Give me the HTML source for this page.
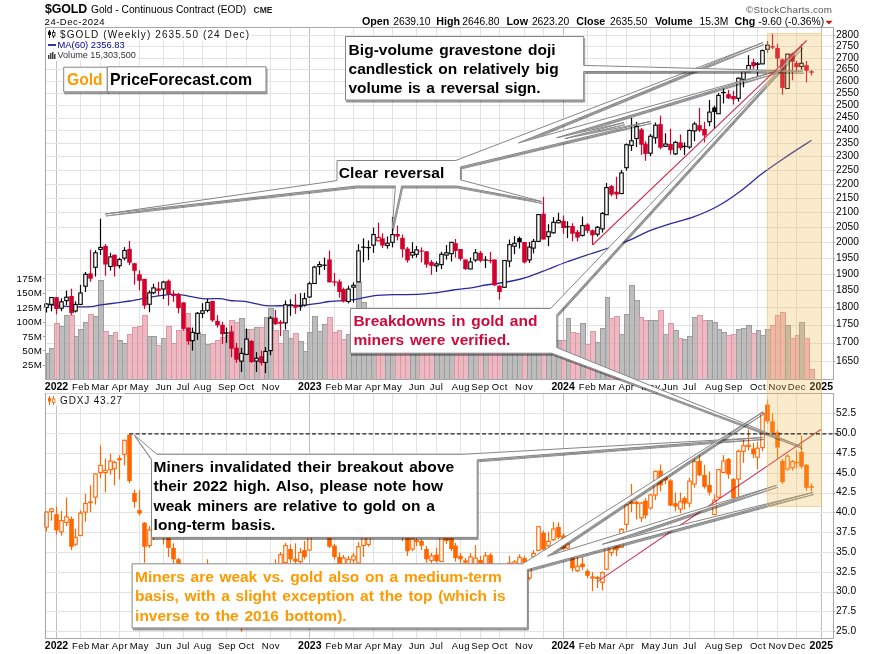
<!DOCTYPE html><html><head><meta charset="utf-8"><title>chart</title><style>html,body{margin:0;padding:0;background:#fff}svg{display:block}text{font-family:"Liberation Sans",sans-serif}</style></head><body>
<svg width="875" height="654" viewBox="0 0 875 654">
<rect width="875" height="654" fill="#fff"/><g style="will-change:transform">
<g stroke="#e3e3e3" stroke-width="1" shape-rendering="crispEdges">
<line x1="56.5" y1="27.5" x2="56.5" y2="379" stroke="#c0c0c0"/>
<line x1="80.5" y1="27.5" x2="80.5" y2="379" stroke="#e3e3e3"/>
<line x1="100.5" y1="27.5" x2="100.5" y2="379" stroke="#e3e3e3"/>
<line x1="119.5" y1="27.5" x2="119.5" y2="379" stroke="#e3e3e3"/>
<line x1="139.5" y1="27.5" x2="139.5" y2="379" stroke="#e3e3e3"/>
<line x1="163.5" y1="27.5" x2="163.5" y2="379" stroke="#e3e3e3"/>
<line x1="183.5" y1="27.5" x2="183.5" y2="379" stroke="#e3e3e3"/>
<line x1="202.5" y1="27.5" x2="202.5" y2="379" stroke="#e3e3e3"/>
<line x1="226.5" y1="27.5" x2="226.5" y2="379" stroke="#e3e3e3"/>
<line x1="246.5" y1="27.5" x2="246.5" y2="379" stroke="#e3e3e3"/>
<line x1="270.5" y1="27.5" x2="270.5" y2="379" stroke="#e3e3e3"/>
<line x1="290.5" y1="27.5" x2="290.5" y2="379" stroke="#e3e3e3"/>
<line x1="309.5" y1="27.5" x2="309.5" y2="379" stroke="#c0c0c0"/>
<line x1="334.5" y1="27.5" x2="334.5" y2="379" stroke="#e3e3e3"/>
<line x1="353.5" y1="27.5" x2="353.5" y2="379" stroke="#e3e3e3"/>
<line x1="373.5" y1="27.5" x2="373.5" y2="379" stroke="#e3e3e3"/>
<line x1="392.5" y1="27.5" x2="392.5" y2="379" stroke="#e3e3e3"/>
<line x1="416.5" y1="27.5" x2="416.5" y2="379" stroke="#e3e3e3"/>
<line x1="436.5" y1="27.5" x2="436.5" y2="379" stroke="#e3e3e3"/>
<line x1="460.5" y1="27.5" x2="460.5" y2="379" stroke="#e3e3e3"/>
<line x1="480.5" y1="27.5" x2="480.5" y2="379" stroke="#e3e3e3"/>
<line x1="499.5" y1="27.5" x2="499.5" y2="379" stroke="#e3e3e3"/>
<line x1="524.5" y1="27.5" x2="524.5" y2="379" stroke="#e3e3e3"/>
<line x1="543.5" y1="27.5" x2="543.5" y2="379" stroke="#e3e3e3"/>
<line x1="563.5" y1="27.5" x2="563.5" y2="379" stroke="#c0c0c0"/>
<line x1="587.5" y1="27.5" x2="587.5" y2="379" stroke="#e3e3e3"/>
<line x1="606.5" y1="27.5" x2="606.5" y2="379" stroke="#e3e3e3"/>
<line x1="626.5" y1="27.5" x2="626.5" y2="379" stroke="#e3e3e3"/>
<line x1="650.5" y1="27.5" x2="650.5" y2="379" stroke="#e3e3e3"/>
<line x1="670.5" y1="27.5" x2="670.5" y2="379" stroke="#e3e3e3"/>
<line x1="689.5" y1="27.5" x2="689.5" y2="379" stroke="#e3e3e3"/>
<line x1="714.5" y1="27.5" x2="714.5" y2="379" stroke="#e3e3e3"/>
<line x1="733.5" y1="27.5" x2="733.5" y2="379" stroke="#e3e3e3"/>
<line x1="757.5" y1="27.5" x2="757.5" y2="379" stroke="#e3e3e3"/>
<line x1="777.5" y1="27.5" x2="777.5" y2="379" stroke="#e3e3e3"/>
<line x1="796.5" y1="27.5" x2="796.5" y2="379" stroke="#e3e3e3"/>
<line x1="821.5" y1="27.5" x2="821.5" y2="379" stroke="#c0c0c0"/>
<line x1="45.5" y1="361.5" x2="833" y2="361.5"/>
<line x1="45.5" y1="343.5" x2="833" y2="343.5"/>
<line x1="45.5" y1="325.5" x2="833" y2="325.5"/>
<line x1="45.5" y1="307.5" x2="833" y2="307.5"/>
<line x1="45.5" y1="290.5" x2="833" y2="290.5"/>
<line x1="45.5" y1="274.5" x2="833" y2="274.5"/>
<line x1="45.5" y1="258.5" x2="833" y2="258.5"/>
<line x1="45.5" y1="242.5" x2="833" y2="242.5"/>
<line x1="45.5" y1="227.5" x2="833" y2="227.5"/>
<line x1="45.5" y1="212.5" x2="833" y2="212.5"/>
<line x1="45.5" y1="198.5" x2="833" y2="198.5"/>
<line x1="45.5" y1="184.5" x2="833" y2="184.5"/>
<line x1="45.5" y1="170.5" x2="833" y2="170.5"/>
<line x1="45.5" y1="156.5" x2="833" y2="156.5"/>
<line x1="45.5" y1="143.5" x2="833" y2="143.5"/>
<line x1="45.5" y1="130.5" x2="833" y2="130.5"/>
<line x1="45.5" y1="118.5" x2="833" y2="118.5"/>
<line x1="45.5" y1="105.5" x2="833" y2="105.5"/>
<line x1="45.5" y1="93.5" x2="833" y2="93.5"/>
<line x1="45.5" y1="81.5" x2="833" y2="81.5"/>
<line x1="45.5" y1="69.5" x2="833" y2="69.5"/>
<line x1="45.5" y1="58.5" x2="833" y2="58.5"/>
<line x1="45.5" y1="46.5" x2="833" y2="46.5"/>
<line x1="45.5" y1="35.5" x2="833" y2="35.5"/>
</g>
<g stroke="#e3e3e3" stroke-width="1" shape-rendering="crispEdges">
<line x1="56.5" y1="393" x2="56.5" y2="638.5" stroke="#c0c0c0"/>
<line x1="80.5" y1="393" x2="80.5" y2="638.5" stroke="#e3e3e3"/>
<line x1="100.5" y1="393" x2="100.5" y2="638.5" stroke="#e3e3e3"/>
<line x1="119.5" y1="393" x2="119.5" y2="638.5" stroke="#e3e3e3"/>
<line x1="139.5" y1="393" x2="139.5" y2="638.5" stroke="#e3e3e3"/>
<line x1="163.5" y1="393" x2="163.5" y2="638.5" stroke="#e3e3e3"/>
<line x1="183.5" y1="393" x2="183.5" y2="638.5" stroke="#e3e3e3"/>
<line x1="202.5" y1="393" x2="202.5" y2="638.5" stroke="#e3e3e3"/>
<line x1="226.5" y1="393" x2="226.5" y2="638.5" stroke="#e3e3e3"/>
<line x1="246.5" y1="393" x2="246.5" y2="638.5" stroke="#e3e3e3"/>
<line x1="270.5" y1="393" x2="270.5" y2="638.5" stroke="#e3e3e3"/>
<line x1="290.5" y1="393" x2="290.5" y2="638.5" stroke="#e3e3e3"/>
<line x1="309.5" y1="393" x2="309.5" y2="638.5" stroke="#c0c0c0"/>
<line x1="334.5" y1="393" x2="334.5" y2="638.5" stroke="#e3e3e3"/>
<line x1="353.5" y1="393" x2="353.5" y2="638.5" stroke="#e3e3e3"/>
<line x1="373.5" y1="393" x2="373.5" y2="638.5" stroke="#e3e3e3"/>
<line x1="392.5" y1="393" x2="392.5" y2="638.5" stroke="#e3e3e3"/>
<line x1="416.5" y1="393" x2="416.5" y2="638.5" stroke="#e3e3e3"/>
<line x1="436.5" y1="393" x2="436.5" y2="638.5" stroke="#e3e3e3"/>
<line x1="460.5" y1="393" x2="460.5" y2="638.5" stroke="#e3e3e3"/>
<line x1="480.5" y1="393" x2="480.5" y2="638.5" stroke="#e3e3e3"/>
<line x1="499.5" y1="393" x2="499.5" y2="638.5" stroke="#e3e3e3"/>
<line x1="524.5" y1="393" x2="524.5" y2="638.5" stroke="#e3e3e3"/>
<line x1="543.5" y1="393" x2="543.5" y2="638.5" stroke="#e3e3e3"/>
<line x1="563.5" y1="393" x2="563.5" y2="638.5" stroke="#c0c0c0"/>
<line x1="587.5" y1="393" x2="587.5" y2="638.5" stroke="#e3e3e3"/>
<line x1="606.5" y1="393" x2="606.5" y2="638.5" stroke="#e3e3e3"/>
<line x1="626.5" y1="393" x2="626.5" y2="638.5" stroke="#e3e3e3"/>
<line x1="650.5" y1="393" x2="650.5" y2="638.5" stroke="#e3e3e3"/>
<line x1="670.5" y1="393" x2="670.5" y2="638.5" stroke="#e3e3e3"/>
<line x1="689.5" y1="393" x2="689.5" y2="638.5" stroke="#e3e3e3"/>
<line x1="714.5" y1="393" x2="714.5" y2="638.5" stroke="#e3e3e3"/>
<line x1="733.5" y1="393" x2="733.5" y2="638.5" stroke="#e3e3e3"/>
<line x1="757.5" y1="393" x2="757.5" y2="638.5" stroke="#e3e3e3"/>
<line x1="777.5" y1="393" x2="777.5" y2="638.5" stroke="#e3e3e3"/>
<line x1="796.5" y1="393" x2="796.5" y2="638.5" stroke="#e3e3e3"/>
<line x1="821.5" y1="393" x2="821.5" y2="638.5" stroke="#c0c0c0"/>
<line x1="45.5" y1="631.5" x2="833" y2="631.5"/>
<line x1="45.5" y1="611.5" x2="833" y2="611.5"/>
<line x1="45.5" y1="592.5" x2="833" y2="592.5"/>
<line x1="45.5" y1="572.5" x2="833" y2="572.5"/>
<line x1="45.5" y1="552.5" x2="833" y2="552.5"/>
<line x1="45.5" y1="532.5" x2="833" y2="532.5"/>
<line x1="45.5" y1="512.5" x2="833" y2="512.5"/>
<line x1="45.5" y1="493.5" x2="833" y2="493.5"/>
<line x1="45.5" y1="473.5" x2="833" y2="473.5"/>
<line x1="45.5" y1="453.5" x2="833" y2="453.5"/>
<line x1="45.5" y1="433.5" x2="833" y2="433.5"/>
<line x1="45.5" y1="413.5" x2="833" y2="413.5"/>
</g>
<g shape-rendering="crispEdges" opacity="0.8">
<rect x="46.5" y="353.5" width="3" height="25.5" fill="#adadad" stroke="#858585" stroke-width="1"/>
<rect x="49.5" y="348.5" width="5" height="30.5" fill="#adadad" stroke="#858585" stroke-width="1"/>
<rect x="54.5" y="323.5" width="5" height="55.5" fill="#e9a9b5" stroke="#d67f8e" stroke-width="1"/>
<rect x="59.5" y="326.5" width="5" height="52.5" fill="#adadad" stroke="#858585" stroke-width="1"/>
<rect x="64.5" y="315.5" width="5" height="63.5" fill="#adadad" stroke="#858585" stroke-width="1"/>
<rect x="69.5" y="315.5" width="5" height="63.5" fill="#e9a9b5" stroke="#d67f8e" stroke-width="1"/>
<rect x="74.5" y="336.5" width="4" height="42.5" fill="#adadad" stroke="#858585" stroke-width="1"/>
<rect x="78.5" y="329.5" width="5" height="49.5" fill="#adadad" stroke="#858585" stroke-width="1"/>
<rect x="83.5" y="322.5" width="5" height="56.5" fill="#adadad" stroke="#858585" stroke-width="1"/>
<rect x="88.5" y="314.5" width="5" height="64.5" fill="#e9a9b5" stroke="#d67f8e" stroke-width="1"/>
<rect x="93.5" y="316.5" width="5" height="62.5" fill="#adadad" stroke="#858585" stroke-width="1"/>
<rect x="98.5" y="280.5" width="5" height="98.5" fill="#adadad" stroke="#858585" stroke-width="1"/>
<rect x="103.5" y="331.5" width="5" height="47.5" fill="#e9a9b5" stroke="#d67f8e" stroke-width="1"/>
<rect x="108.5" y="335.5" width="5" height="43.5" fill="#adadad" stroke="#858585" stroke-width="1"/>
<rect x="113.5" y="332.5" width="4" height="46.5" fill="#e9a9b5" stroke="#d67f8e" stroke-width="1"/>
<rect x="117.5" y="340.5" width="5" height="38.5" fill="#adadad" stroke="#858585" stroke-width="1"/>
<rect x="122.5" y="343.5" width="5" height="35.5" fill="#adadad" stroke="#858585" stroke-width="1"/>
<rect x="127.5" y="334.5" width="5" height="44.5" fill="#e9a9b5" stroke="#d67f8e" stroke-width="1"/>
<rect x="132.5" y="327.5" width="5" height="51.5" fill="#e9a9b5" stroke="#d67f8e" stroke-width="1"/>
<rect x="137.5" y="326.5" width="5" height="52.5" fill="#e9a9b5" stroke="#d67f8e" stroke-width="1"/>
<rect x="142.5" y="315.5" width="5" height="63.5" fill="#e9a9b5" stroke="#d67f8e" stroke-width="1"/>
<rect x="147.5" y="336.5" width="4" height="42.5" fill="#adadad" stroke="#858585" stroke-width="1"/>
<rect x="151.5" y="336.5" width="5" height="42.5" fill="#adadad" stroke="#858585" stroke-width="1"/>
<rect x="156.5" y="345.5" width="5" height="33.5" fill="#e9a9b5" stroke="#d67f8e" stroke-width="1"/>
<rect x="161.5" y="338.5" width="5" height="40.5" fill="#adadad" stroke="#858585" stroke-width="1"/>
<rect x="166.5" y="326.5" width="5" height="52.5" fill="#e9a9b5" stroke="#d67f8e" stroke-width="1"/>
<rect x="171.5" y="343.5" width="5" height="35.5" fill="#e9a9b5" stroke="#d67f8e" stroke-width="1"/>
<rect x="176.5" y="330.5" width="5" height="48.5" fill="#e9a9b5" stroke="#d67f8e" stroke-width="1"/>
<rect x="181.5" y="328.5" width="5" height="50.5" fill="#e9a9b5" stroke="#d67f8e" stroke-width="1"/>
<rect x="186.5" y="313.5" width="4" height="65.5" fill="#e9a9b5" stroke="#d67f8e" stroke-width="1"/>
<rect x="190.5" y="332.5" width="5" height="46.5" fill="#adadad" stroke="#858585" stroke-width="1"/>
<rect x="195.5" y="332.5" width="5" height="46.5" fill="#adadad" stroke="#858585" stroke-width="1"/>
<rect x="200.5" y="334.5" width="5" height="44.5" fill="#adadad" stroke="#858585" stroke-width="1"/>
<rect x="205.5" y="344.5" width="5" height="34.5" fill="#adadad" stroke="#858585" stroke-width="1"/>
<rect x="210.5" y="343.5" width="5" height="35.5" fill="#e9a9b5" stroke="#d67f8e" stroke-width="1"/>
<rect x="215.5" y="340.5" width="5" height="38.5" fill="#e9a9b5" stroke="#d67f8e" stroke-width="1"/>
<rect x="220.5" y="337.5" width="5" height="41.5" fill="#e9a9b5" stroke="#d67f8e" stroke-width="1"/>
<rect x="225.5" y="335.5" width="4" height="43.5" fill="#adadad" stroke="#858585" stroke-width="1"/>
<rect x="229.5" y="320.5" width="5" height="58.5" fill="#e9a9b5" stroke="#d67f8e" stroke-width="1"/>
<rect x="234.5" y="322.5" width="5" height="56.5" fill="#e9a9b5" stroke="#d67f8e" stroke-width="1"/>
<rect x="239.5" y="318.5" width="5" height="60.5" fill="#adadad" stroke="#858585" stroke-width="1"/>
<rect x="244.5" y="329.5" width="5" height="49.5" fill="#adadad" stroke="#858585" stroke-width="1"/>
<rect x="249.5" y="329.5" width="5" height="49.5" fill="#e9a9b5" stroke="#d67f8e" stroke-width="1"/>
<rect x="254.5" y="327.5" width="5" height="51.5" fill="#adadad" stroke="#858585" stroke-width="1"/>
<rect x="259.5" y="327.5" width="5" height="51.5" fill="#e9a9b5" stroke="#d67f8e" stroke-width="1"/>
<rect x="264.5" y="317.5" width="4" height="61.5" fill="#adadad" stroke="#858585" stroke-width="1"/>
<rect x="268.5" y="308.5" width="5" height="70.5" fill="#adadad" stroke="#858585" stroke-width="1"/>
<rect x="273.5" y="330.5" width="5" height="48.5" fill="#e9a9b5" stroke="#d67f8e" stroke-width="1"/>
<rect x="278.5" y="343.5" width="5" height="35.5" fill="#e9a9b5" stroke="#d67f8e" stroke-width="1"/>
<rect x="283.5" y="330.5" width="5" height="48.5" fill="#adadad" stroke="#858585" stroke-width="1"/>
<rect x="288.5" y="338.5" width="5" height="40.5" fill="#adadad" stroke="#858585" stroke-width="1"/>
<rect x="293.5" y="333.5" width="5" height="45.5" fill="#e9a9b5" stroke="#d67f8e" stroke-width="1"/>
<rect x="298.5" y="341.5" width="5" height="37.5" fill="#adadad" stroke="#858585" stroke-width="1"/>
<rect x="303.5" y="351.5" width="4" height="27.5" fill="#adadad" stroke="#858585" stroke-width="1"/>
<rect x="307.5" y="332.5" width="5" height="46.5" fill="#adadad" stroke="#858585" stroke-width="1"/>
<rect x="312.5" y="316.5" width="5" height="62.5" fill="#adadad" stroke="#858585" stroke-width="1"/>
<rect x="317.5" y="331.5" width="5" height="47.5" fill="#adadad" stroke="#858585" stroke-width="1"/>
<rect x="322.5" y="324.5" width="5" height="54.5" fill="#adadad" stroke="#858585" stroke-width="1"/>
<rect x="327.5" y="317.5" width="5" height="61.5" fill="#e9a9b5" stroke="#d67f8e" stroke-width="1"/>
<rect x="332.5" y="332.5" width="5" height="46.5" fill="#e9a9b5" stroke="#d67f8e" stroke-width="1"/>
<rect x="337.5" y="330.5" width="4" height="48.5" fill="#e9a9b5" stroke="#d67f8e" stroke-width="1"/>
<rect x="341.5" y="339.5" width="5" height="39.5" fill="#e9a9b5" stroke="#d67f8e" stroke-width="1"/>
<rect x="346.5" y="334.5" width="5" height="44.5" fill="#adadad" stroke="#858585" stroke-width="1"/>
<rect x="351.5" y="330.5" width="5" height="48.5" fill="#adadad" stroke="#858585" stroke-width="1"/>
<rect x="356.5" y="282.5" width="5" height="96.5" fill="#adadad" stroke="#858585" stroke-width="1"/>
<rect x="361.5" y="302.5" width="5" height="76.5" fill="#adadad" stroke="#858585" stroke-width="1"/>
<rect x="366.5" y="325.5" width="5" height="53.5" fill="#adadad" stroke="#858585" stroke-width="1"/>
<rect x="371.5" y="335.5" width="5" height="43.5" fill="#adadad" stroke="#858585" stroke-width="1"/>
<rect x="376.5" y="335.5" width="4" height="43.5" fill="#e9a9b5" stroke="#d67f8e" stroke-width="1"/>
<rect x="380.5" y="335.5" width="5" height="43.5" fill="#e9a9b5" stroke="#d67f8e" stroke-width="1"/>
<rect x="385.5" y="335.5" width="5" height="43.5" fill="#adadad" stroke="#858585" stroke-width="1"/>
<rect x="390.5" y="330.5" width="5" height="48.5" fill="#adadad" stroke="#858585" stroke-width="1"/>
<rect x="395.5" y="335.5" width="5" height="43.5" fill="#e9a9b5" stroke="#d67f8e" stroke-width="1"/>
<rect x="400.5" y="335.5" width="5" height="43.5" fill="#e9a9b5" stroke="#d67f8e" stroke-width="1"/>
<rect x="405.5" y="335.5" width="5" height="43.5" fill="#e9a9b5" stroke="#d67f8e" stroke-width="1"/>
<rect x="410.5" y="335.5" width="5" height="43.5" fill="#adadad" stroke="#858585" stroke-width="1"/>
<rect x="415.5" y="335.5" width="4" height="43.5" fill="#adadad" stroke="#858585" stroke-width="1"/>
<rect x="419.5" y="335.5" width="5" height="43.5" fill="#e9a9b5" stroke="#d67f8e" stroke-width="1"/>
<rect x="424.5" y="335.5" width="5" height="43.5" fill="#e9a9b5" stroke="#d67f8e" stroke-width="1"/>
<rect x="429.5" y="335.5" width="5" height="43.5" fill="#e9a9b5" stroke="#d67f8e" stroke-width="1"/>
<rect x="434.5" y="335.5" width="5" height="43.5" fill="#adadad" stroke="#858585" stroke-width="1"/>
<rect x="439.5" y="335.5" width="5" height="43.5" fill="#adadad" stroke="#858585" stroke-width="1"/>
<rect x="444.5" y="335.5" width="5" height="43.5" fill="#adadad" stroke="#858585" stroke-width="1"/>
<rect x="449.5" y="335.5" width="5" height="43.5" fill="#adadad" stroke="#858585" stroke-width="1"/>
<rect x="454.5" y="335.5" width="4" height="43.5" fill="#e9a9b5" stroke="#d67f8e" stroke-width="1"/>
<rect x="458.5" y="335.5" width="5" height="43.5" fill="#e9a9b5" stroke="#d67f8e" stroke-width="1"/>
<rect x="463.5" y="335.5" width="5" height="43.5" fill="#e9a9b5" stroke="#d67f8e" stroke-width="1"/>
<rect x="468.5" y="335.5" width="5" height="43.5" fill="#adadad" stroke="#858585" stroke-width="1"/>
<rect x="473.5" y="335.5" width="5" height="43.5" fill="#adadad" stroke="#858585" stroke-width="1"/>
<rect x="478.5" y="335.5" width="5" height="43.5" fill="#e9a9b5" stroke="#d67f8e" stroke-width="1"/>
<rect x="483.5" y="335.5" width="5" height="43.5" fill="#adadad" stroke="#858585" stroke-width="1"/>
<rect x="488.5" y="335.5" width="4" height="43.5" fill="#e9a9b5" stroke="#d67f8e" stroke-width="1"/>
<rect x="492.5" y="330.5" width="5" height="48.5" fill="#e9a9b5" stroke="#d67f8e" stroke-width="1"/>
<rect x="497.5" y="325.5" width="5" height="53.5" fill="#e9a9b5" stroke="#d67f8e" stroke-width="1"/>
<rect x="502.5" y="325.5" width="5" height="53.5" fill="#adadad" stroke="#858585" stroke-width="1"/>
<rect x="507.5" y="325.5" width="5" height="53.5" fill="#adadad" stroke="#858585" stroke-width="1"/>
<rect x="512.5" y="335.5" width="5" height="43.5" fill="#adadad" stroke="#858585" stroke-width="1"/>
<rect x="517.5" y="335.5" width="5" height="43.5" fill="#adadad" stroke="#858585" stroke-width="1"/>
<rect x="522.5" y="335.5" width="5" height="43.5" fill="#e9a9b5" stroke="#d67f8e" stroke-width="1"/>
<rect x="527.5" y="335.5" width="4" height="43.5" fill="#adadad" stroke="#858585" stroke-width="1"/>
<rect x="531.5" y="335.5" width="5" height="43.5" fill="#adadad" stroke="#858585" stroke-width="1"/>
<rect x="536.5" y="325.5" width="5" height="53.5" fill="#adadad" stroke="#858585" stroke-width="1"/>
<rect x="541.5" y="315.5" width="5" height="63.5" fill="#e9a9b5" stroke="#d67f8e" stroke-width="1"/>
<rect x="546.5" y="330.5" width="5" height="48.5" fill="#adadad" stroke="#858585" stroke-width="1"/>
<rect x="551.5" y="335.5" width="5" height="43.5" fill="#adadad" stroke="#858585" stroke-width="1"/>
<rect x="556.5" y="340.5" width="5" height="38.5" fill="#adadad" stroke="#858585" stroke-width="1"/>
<rect x="561.5" y="340.5" width="5" height="38.5" fill="#e9a9b5" stroke="#d67f8e" stroke-width="1"/>
<rect x="566.5" y="318.5" width="4" height="60.5" fill="#adadad" stroke="#858585" stroke-width="1"/>
<rect x="570.5" y="332.5" width="5" height="46.5" fill="#e9a9b5" stroke="#d67f8e" stroke-width="1"/>
<rect x="575.5" y="333.5" width="5" height="45.5" fill="#e9a9b5" stroke="#d67f8e" stroke-width="1"/>
<rect x="580.5" y="323.5" width="5" height="55.5" fill="#adadad" stroke="#858585" stroke-width="1"/>
<rect x="585.5" y="344.5" width="5" height="34.5" fill="#e9a9b5" stroke="#d67f8e" stroke-width="1"/>
<rect x="590.5" y="331.5" width="5" height="47.5" fill="#e9a9b5" stroke="#d67f8e" stroke-width="1"/>
<rect x="595.5" y="342.5" width="5" height="36.5" fill="#adadad" stroke="#858585" stroke-width="1"/>
<rect x="600.5" y="328.5" width="5" height="50.5" fill="#adadad" stroke="#858585" stroke-width="1"/>
<rect x="605.5" y="297.5" width="4" height="81.5" fill="#adadad" stroke="#858585" stroke-width="1"/>
<rect x="609.5" y="318.5" width="5" height="60.5" fill="#e9a9b5" stroke="#d67f8e" stroke-width="1"/>
<rect x="614.5" y="316.5" width="5" height="62.5" fill="#e9a9b5" stroke="#d67f8e" stroke-width="1"/>
<rect x="619.5" y="334.5" width="5" height="44.5" fill="#adadad" stroke="#858585" stroke-width="1"/>
<rect x="624.5" y="314.5" width="5" height="64.5" fill="#adadad" stroke="#858585" stroke-width="1"/>
<rect x="629.5" y="285.5" width="5" height="93.5" fill="#adadad" stroke="#858585" stroke-width="1"/>
<rect x="634.5" y="300.5" width="5" height="78.5" fill="#adadad" stroke="#858585" stroke-width="1"/>
<rect x="639.5" y="317.5" width="4" height="61.5" fill="#e9a9b5" stroke="#d67f8e" stroke-width="1"/>
<rect x="643.5" y="320.5" width="5" height="58.5" fill="#e9a9b5" stroke="#d67f8e" stroke-width="1"/>
<rect x="648.5" y="320.5" width="5" height="58.5" fill="#adadad" stroke="#858585" stroke-width="1"/>
<rect x="653.5" y="320.5" width="5" height="58.5" fill="#adadad" stroke="#858585" stroke-width="1"/>
<rect x="658.5" y="310.5" width="5" height="68.5" fill="#e9a9b5" stroke="#d67f8e" stroke-width="1"/>
<rect x="663.5" y="334.5" width="5" height="44.5" fill="#adadad" stroke="#858585" stroke-width="1"/>
<rect x="668.5" y="323.5" width="5" height="55.5" fill="#e9a9b5" stroke="#d67f8e" stroke-width="1"/>
<rect x="673.5" y="330.5" width="5" height="48.5" fill="#adadad" stroke="#858585" stroke-width="1"/>
<rect x="678.5" y="338.5" width="4" height="40.5" fill="#e9a9b5" stroke="#d67f8e" stroke-width="1"/>
<rect x="682.5" y="339.5" width="5" height="39.5" fill="#adadad" stroke="#858585" stroke-width="1"/>
<rect x="687.5" y="336.5" width="5" height="42.5" fill="#adadad" stroke="#858585" stroke-width="1"/>
<rect x="692.5" y="317.5" width="5" height="61.5" fill="#adadad" stroke="#858585" stroke-width="1"/>
<rect x="697.5" y="315.5" width="5" height="63.5" fill="#e9a9b5" stroke="#d67f8e" stroke-width="1"/>
<rect x="702.5" y="320.5" width="5" height="58.5" fill="#e9a9b5" stroke="#d67f8e" stroke-width="1"/>
<rect x="707.5" y="320.5" width="5" height="58.5" fill="#adadad" stroke="#858585" stroke-width="1"/>
<rect x="712.5" y="322.5" width="5" height="56.5" fill="#adadad" stroke="#858585" stroke-width="1"/>
<rect x="717.5" y="329.5" width="4" height="49.5" fill="#adadad" stroke="#858585" stroke-width="1"/>
<rect x="721.5" y="332.5" width="5" height="46.5" fill="#adadad" stroke="#858585" stroke-width="1"/>
<rect x="726.5" y="335.5" width="5" height="43.5" fill="#e9a9b5" stroke="#d67f8e" stroke-width="1"/>
<rect x="731.5" y="334.5" width="5" height="44.5" fill="#e9a9b5" stroke="#d67f8e" stroke-width="1"/>
<rect x="736.5" y="329.5" width="5" height="49.5" fill="#adadad" stroke="#858585" stroke-width="1"/>
<rect x="741.5" y="328.5" width="5" height="50.5" fill="#adadad" stroke="#858585" stroke-width="1"/>
<rect x="746.5" y="325.5" width="5" height="53.5" fill="#adadad" stroke="#858585" stroke-width="1"/>
<rect x="751.5" y="333.5" width="5" height="45.5" fill="#e9a9b5" stroke="#d67f8e" stroke-width="1"/>
<rect x="756.5" y="330.5" width="4" height="48.5" fill="#adadad" stroke="#858585" stroke-width="1"/>
<rect x="760.5" y="335.5" width="5" height="43.5" fill="#adadad" stroke="#858585" stroke-width="1"/>
<rect x="765.5" y="329.5" width="5" height="49.5" fill="#adadad" stroke="#858585" stroke-width="1"/>
<rect x="770.5" y="325.5" width="5" height="53.5" fill="#e9a9b5" stroke="#d67f8e" stroke-width="1"/>
<rect x="775.5" y="315.5" width="5" height="63.5" fill="#e9a9b5" stroke="#d67f8e" stroke-width="1"/>
<rect x="780.5" y="312.5" width="5" height="66.5" fill="#e9a9b5" stroke="#d67f8e" stroke-width="1"/>
<rect x="785.5" y="325.5" width="5" height="53.5" fill="#adadad" stroke="#858585" stroke-width="1"/>
<rect x="790.5" y="338.5" width="5" height="40.5" fill="#e9a9b5" stroke="#d67f8e" stroke-width="1"/>
<rect x="795.5" y="335.5" width="4" height="43.5" fill="#e9a9b5" stroke="#d67f8e" stroke-width="1"/>
<rect x="799.5" y="322.5" width="5" height="56.5" fill="#adadad" stroke="#858585" stroke-width="1"/>
<rect x="804.5" y="338.5" width="5" height="40.5" fill="#e9a9b5" stroke="#d67f8e" stroke-width="1"/>
<rect x="809.5" y="369.5" width="5" height="9.5" fill="#e9a9b5" stroke="#d67f8e" stroke-width="1"/>
</g>
<path fill="none" stroke="#2a2aa0" stroke-width="1.3" d="M45.5 304.3 C47.4 304.5 52.5 305.1 56.8 305.5 C61.1 305.9 65.7 306.5 71.3 306.7 C76.9 306.9 85.5 307.0 90.5 306.7 C95.5 306.4 96.7 305.5 101.0 304.9 C105.3 304.3 111.7 303.5 116.5 302.9 C121.3 302.2 124.6 301.9 130.0 301.0 C135.4 300.1 142.7 298.5 149.1 297.4 C155.5 296.3 163.1 295.1 168.2 294.6 C173.3 294.1 174.0 293.9 179.7 294.6 C185.4 295.3 195.9 297.9 202.6 298.6 C209.3 299.3 215.2 298.3 219.8 298.6 C224.4 298.9 225.8 300.0 230.0 300.5 C234.2 301.0 238.8 300.5 244.8 301.4 C250.8 302.2 259.2 304.9 265.9 305.6 C272.6 306.3 278.6 305.7 285.0 305.6 C291.4 305.5 298.3 305.5 304.1 305.1 C309.9 304.7 315.8 303.8 320.0 303.2 C324.2 302.6 323.4 302.1 329.1 301.5 C334.8 300.9 346.7 300.6 354.0 299.6 C361.3 298.7 366.4 296.6 373.1 295.8 C379.8 295.0 386.8 294.8 394.1 294.6 C401.5 294.4 410.5 294.7 417.2 294.4 C423.9 294.1 428.3 293.6 434.4 292.9 C440.4 292.2 447.1 290.9 453.5 290.0 C459.9 289.1 467.8 288.3 472.6 287.6 C477.4 286.9 477.6 286.4 482.2 285.6 C486.8 284.8 495.5 283.7 500.0 283.0 C504.5 282.3 504.4 282.5 509.1 281.5 C513.8 280.5 521.8 278.8 528.2 276.8 C534.6 274.8 540.9 272.0 547.3 269.5 C553.7 267.0 559.4 264.6 566.5 262.0 C573.6 259.4 582.8 256.4 590.0 254.0 C597.2 251.6 603.3 249.8 610.0 247.5 C616.7 245.2 623.9 242.6 630.3 239.9 C636.7 237.2 641.8 233.9 648.6 231.2 C655.5 228.4 663.8 225.8 671.4 223.4 C679.0 221.0 686.7 219.4 694.3 216.6 C701.9 213.8 709.5 210.7 717.1 206.5 C724.7 202.3 732.4 197.0 740.0 191.4 C747.6 185.8 755.3 178.8 762.9 173.1 C770.5 167.4 777.6 162.6 785.7 157.1 C793.8 151.6 807.3 143.1 811.6 140.3"/>
<g>
<line x1="46.5" y1="303.0" x2="46.5" y2="312.5" stroke="#000" stroke-width="1.2"/><rect x="44.75" y="304.0" width="3.5" height="3.5" fill="#fff" stroke="#000" stroke-width="1.1"/>
<line x1="51.5" y1="297.0" x2="51.5" y2="311.3" stroke="#000" stroke-width="1.2"/><rect x="49.75" y="297.5" width="3.5" height="6.9" fill="#fff" stroke="#000" stroke-width="1.1"/>
<line x1="56.5" y1="297.0" x2="56.5" y2="314.3" stroke="#d4002c" stroke-width="1.2"/><rect x="54.2" y="297.2" width="4.6" height="11.8" fill="#d4002c"/>
<line x1="61.5" y1="298.3" x2="61.5" y2="311.3" stroke="#000" stroke-width="1.2"/><rect x="59.75" y="301.8" width="3.5" height="6.4" fill="#fff" stroke="#000" stroke-width="1.1"/>
<line x1="66.5" y1="290.6" x2="66.5" y2="305.2" stroke="#000" stroke-width="1.2"/><rect x="64.75" y="297.2" width="3.5" height="3.4" fill="#fff" stroke="#000" stroke-width="1.1"/>
<line x1="71.5" y1="288.7" x2="71.5" y2="315.1" stroke="#d4002c" stroke-width="1.2"/><rect x="69.2" y="296.0" width="4.6" height="17.1" fill="#d4002c"/>
<line x1="75.5" y1="301.3" x2="75.5" y2="312.5" stroke="#000" stroke-width="1.2"/><rect x="73.75" y="304.4" width="3.5" height="6.6" fill="#fff" stroke="#000" stroke-width="1.1"/>
<line x1="80.5" y1="284.8" x2="80.5" y2="304.4" stroke="#000" stroke-width="1.2"/><rect x="78.75" y="293.0" width="3.5" height="11.4" fill="#fff" stroke="#000" stroke-width="1.1"/>
<line x1="85.5" y1="271.9" x2="85.5" y2="292.0" stroke="#000" stroke-width="1.2"/><rect x="83.75" y="274.3" width="3.5" height="11.9" fill="#fff" stroke="#000" stroke-width="1.1"/>
<line x1="90.5" y1="249.7" x2="90.5" y2="281.8" stroke="#d4002c" stroke-width="1.2"/><rect x="88.2" y="273.4" width="4.6" height="5.3" fill="#d4002c"/>
<line x1="95.5" y1="250.2" x2="95.5" y2="276.5" stroke="#000" stroke-width="1.2"/><rect x="93.75" y="252.8" width="3.5" height="14.5" fill="#fff" stroke="#000" stroke-width="1.1"/>
<line x1="100.5" y1="218.7" x2="100.5" y2="255.0" stroke="#000" stroke-width="1.2"/><rect x="98.75" y="247.4" width="3.5" height="2.0" fill="#fff" stroke="#000" stroke-width="1.1"/>
<line x1="105.5" y1="244.0" x2="105.5" y2="275.7" stroke="#d4002c" stroke-width="1.2"/><rect x="103.2" y="245.9" width="4.6" height="18.6" fill="#d4002c"/>
<line x1="110.5" y1="252.8" x2="110.5" y2="270.6" stroke="#000" stroke-width="1.2"/><rect x="108.75" y="256.9" width="3.5" height="9.6" fill="#fff" stroke="#000" stroke-width="1.1"/>
<line x1="114.5" y1="254.7" x2="114.5" y2="276.5" stroke="#d4002c" stroke-width="1.2"/><rect x="112.2" y="254.7" width="4.6" height="11.8" fill="#d4002c"/>
<line x1="119.5" y1="257.8" x2="119.5" y2="268.5" stroke="#000" stroke-width="1.2"/><rect x="117.75" y="259.6" width="3.5" height="6.1" fill="#fff" stroke="#000" stroke-width="1.1"/>
<line x1="124.5" y1="247.1" x2="124.5" y2="260.4" stroke="#000" stroke-width="1.2"/><rect x="122.75" y="250.5" width="3.5" height="7.6" fill="#fff" stroke="#000" stroke-width="1.1"/>
<line x1="129.5" y1="241.0" x2="129.5" y2="265.0" stroke="#d4002c" stroke-width="1.2"/><rect x="127.2" y="248.9" width="4.6" height="13.8" fill="#d4002c"/>
<line x1="134.5" y1="262.7" x2="134.5" y2="284.7" stroke="#d4002c" stroke-width="1.2"/><rect x="132.2" y="263.3" width="4.6" height="7.5" fill="#d4002c"/>
<line x1="139.5" y1="270.3" x2="139.5" y2="290.4" stroke="#d4002c" stroke-width="1.2"/><rect x="137.2" y="274.3" width="4.6" height="6.5" fill="#d4002c"/>
<line x1="144.5" y1="278.9" x2="144.5" y2="308.9" stroke="#d4002c" stroke-width="1.2"/><rect x="142.2" y="278.9" width="4.6" height="26.7" fill="#d4002c"/>
<line x1="149.5" y1="290.4" x2="149.5" y2="312.3" stroke="#000" stroke-width="1.2"/><rect x="147.75" y="292.8" width="3.5" height="11.5" fill="#fff" stroke="#000" stroke-width="1.1"/>
<line x1="153.5" y1="283.7" x2="153.5" y2="294.2" stroke="#000" stroke-width="1.2"/><rect x="151.75" y="287.9" width="3.5" height="4.9" fill="#fff" stroke="#000" stroke-width="1.1"/>
<line x1="158.5" y1="281.8" x2="158.5" y2="296.1" stroke="#d4002c" stroke-width="1.2"/><rect x="156.2" y="288.4" width="4.6" height="2.5" fill="#d4002c"/>
<line x1="163.5" y1="280.8" x2="163.5" y2="299.0" stroke="#000" stroke-width="1.2"/><rect x="161.75" y="282.1" width="3.5" height="6.9" fill="#fff" stroke="#000" stroke-width="1.1"/>
<line x1="168.5" y1="279.5" x2="168.5" y2="305.6" stroke="#d4002c" stroke-width="1.2"/><rect x="166.2" y="280.8" width="4.6" height="13.4" fill="#d4002c"/>
<line x1="173.5" y1="290.4" x2="173.5" y2="301.8" stroke="#d4002c" stroke-width="1.2"/><rect x="171.2" y="294.2" width="4.6" height="1.9" fill="#d4002c"/>
<line x1="178.5" y1="292.8" x2="178.5" y2="313.3" stroke="#d4002c" stroke-width="1.2"/><rect x="176.2" y="294.2" width="4.6" height="13.9" fill="#d4002c"/>
<line x1="183.5" y1="302.4" x2="183.5" y2="330.5" stroke="#d4002c" stroke-width="1.2"/><rect x="181.2" y="302.4" width="4.6" height="26.2" fill="#d4002c"/>
<line x1="188.5" y1="327.6" x2="188.5" y2="344.8" stroke="#d4002c" stroke-width="1.2"/><rect x="186.2" y="327.6" width="4.6" height="13.8" fill="#d4002c"/>
<line x1="192.5" y1="327.6" x2="192.5" y2="350.6" stroke="#000" stroke-width="1.2"/><rect x="190.75" y="332.4" width="3.5" height="8.2" fill="#fff" stroke="#000" stroke-width="1.1"/>
<line x1="197.5" y1="312.0" x2="197.5" y2="340.0" stroke="#000" stroke-width="1.2"/><rect x="195.75" y="313.3" width="3.5" height="20.1" fill="#fff" stroke="#000" stroke-width="1.1"/>
<line x1="202.5" y1="303.2" x2="202.5" y2="318.1" stroke="#000" stroke-width="1.2"/><rect x="200.75" y="310.8" width="3.5" height="2.5" fill="#fff" stroke="#000" stroke-width="1.1"/>
<line x1="207.5" y1="298.6" x2="207.5" y2="312.3" stroke="#000" stroke-width="1.2"/><rect x="205.75" y="302.4" width="3.5" height="8.0" fill="#fff" stroke="#000" stroke-width="1.1"/>
<line x1="212.5" y1="300.9" x2="212.5" y2="321.9" stroke="#d4002c" stroke-width="1.2"/><rect x="210.2" y="300.9" width="4.6" height="19.5" fill="#d4002c"/>
<line x1="217.5" y1="315.2" x2="217.5" y2="327.6" stroke="#d4002c" stroke-width="1.2"/><rect x="215.2" y="320.9" width="4.6" height="4.4" fill="#d4002c"/>
<line x1="222.5" y1="321.9" x2="222.5" y2="343.9" stroke="#d4002c" stroke-width="1.2"/><rect x="220.2" y="324.8" width="4.6" height="9.5" fill="#d4002c"/>
<line x1="226.5" y1="327.6" x2="226.5" y2="342.9" stroke="#000" stroke-width="1.2"/><rect x="224.2" y="332.4" width="4.6" height="1.3" fill="#000"/>
<line x1="231.5" y1="325.7" x2="231.5" y2="357.3" stroke="#d4002c" stroke-width="1.2"/><rect x="229.2" y="331.5" width="4.6" height="17.2" fill="#d4002c"/>
<line x1="236.5" y1="342.9" x2="236.5" y2="363.0" stroke="#d4002c" stroke-width="1.2"/><rect x="234.2" y="347.7" width="4.6" height="12.0" fill="#d4002c"/>
<line x1="241.5" y1="347.7" x2="241.5" y2="372.0" stroke="#000" stroke-width="1.2"/><rect x="239.75" y="353.4" width="3.5" height="7.7" fill="#fff" stroke="#000" stroke-width="1.1"/>
<line x1="246.5" y1="328.6" x2="246.5" y2="354.8" stroke="#000" stroke-width="1.2"/><rect x="244.75" y="339.1" width="3.5" height="15.3" fill="#fff" stroke="#000" stroke-width="1.1"/>
<line x1="251.5" y1="340.0" x2="251.5" y2="363.0" stroke="#d4002c" stroke-width="1.2"/><rect x="249.2" y="341.0" width="4.6" height="21.0" fill="#d4002c"/>
<line x1="256.5" y1="352.1" x2="256.5" y2="372.0" stroke="#000" stroke-width="1.2"/><rect x="254.75" y="358.2" width="3.5" height="2.9" fill="#fff" stroke="#000" stroke-width="1.1"/>
<line x1="261.5" y1="350.6" x2="261.5" y2="365.5" stroke="#d4002c" stroke-width="1.2"/><rect x="259.2" y="356.3" width="4.6" height="6.7" fill="#d4002c"/>
<line x1="265.5" y1="347.1" x2="265.5" y2="373.1" stroke="#000" stroke-width="1.2"/><rect x="263.75" y="351.5" width="3.5" height="10.9" fill="#fff" stroke="#000" stroke-width="1.1"/>
<line x1="270.5" y1="316.2" x2="270.5" y2="355.3" stroke="#000" stroke-width="1.2"/><rect x="268.75" y="318.1" width="3.5" height="32.5" fill="#fff" stroke="#000" stroke-width="1.1"/>
<line x1="275.5" y1="310.0" x2="275.5" y2="324.8" stroke="#d4002c" stroke-width="1.2"/><rect x="273.2" y="317.7" width="4.6" height="6.5" fill="#d4002c"/>
<line x1="280.5" y1="320.0" x2="280.5" y2="336.2" stroke="#d4002c" stroke-width="1.2"/><rect x="278.2" y="321.9" width="4.6" height="1.9" fill="#d4002c"/>
<line x1="285.5" y1="300.5" x2="285.5" y2="329.5" stroke="#000" stroke-width="1.2"/><rect x="283.75" y="304.7" width="3.5" height="18.2" fill="#fff" stroke="#000" stroke-width="1.1"/>
<line x1="290.5" y1="299.3" x2="290.5" y2="315.8" stroke="#000" stroke-width="1.2"/><rect x="288.2" y="304.3" width="4.6" height="1.2" fill="#000"/>
<line x1="295.5" y1="294.2" x2="295.5" y2="313.9" stroke="#d4002c" stroke-width="1.2"/><rect x="293.2" y="304.7" width="4.6" height="2.9" fill="#d4002c"/>
<line x1="300.5" y1="293.2" x2="300.5" y2="310.8" stroke="#000" stroke-width="1.2"/><rect x="298.2" y="305.6" width="4.6" height="1.2" fill="#000"/>
<line x1="304.5" y1="292.8" x2="304.5" y2="306.6" stroke="#000" stroke-width="1.2"/><rect x="302.75" y="298.6" width="3.5" height="6.5" fill="#fff" stroke="#000" stroke-width="1.1"/>
<line x1="309.5" y1="281.8" x2="309.5" y2="298.0" stroke="#000" stroke-width="1.2"/><rect x="307.75" y="283.7" width="3.5" height="13.3" fill="#fff" stroke="#000" stroke-width="1.1"/>
<line x1="314.5" y1="265.8" x2="314.5" y2="284.0" stroke="#000" stroke-width="1.2"/><rect x="312.75" y="267.1" width="3.5" height="16.4" fill="#fff" stroke="#000" stroke-width="1.1"/>
<line x1="319.5" y1="261.4" x2="319.5" y2="274.8" stroke="#000" stroke-width="1.2"/><rect x="317.75" y="264.6" width="3.5" height="1.9" fill="#fff" stroke="#000" stroke-width="1.1"/>
<line x1="324.5" y1="257.6" x2="324.5" y2="270.0" stroke="#000" stroke-width="1.2"/><rect x="322.2" y="264.6" width="4.6" height="1.2" fill="#000"/>
<line x1="329.5" y1="250.5" x2="329.5" y2="282.4" stroke="#d4002c" stroke-width="1.2"/><rect x="327.2" y="259.5" width="4.6" height="22.9" fill="#d4002c"/>
<line x1="334.5" y1="272.9" x2="334.5" y2="286.2" stroke="#d4002c" stroke-width="1.2"/><rect x="332.2" y="281.3" width="4.6" height="1.3" fill="#d4002c"/>
<line x1="339.5" y1="279.5" x2="339.5" y2="297.7" stroke="#d4002c" stroke-width="1.2"/><rect x="337.2" y="281.5" width="4.6" height="10.5" fill="#d4002c"/>
<line x1="343.5" y1="287.6" x2="343.5" y2="302.5" stroke="#d4002c" stroke-width="1.2"/><rect x="341.2" y="289.1" width="4.6" height="12.4" fill="#d4002c"/>
<line x1="348.5" y1="285.7" x2="348.5" y2="303.4" stroke="#000" stroke-width="1.2"/><rect x="346.75" y="289.1" width="3.5" height="12.4" fill="#fff" stroke="#000" stroke-width="1.1"/>
<line x1="353.5" y1="282.4" x2="353.5" y2="302.5" stroke="#000" stroke-width="1.2"/><rect x="351.75" y="285.3" width="3.5" height="1.9" fill="#fff" stroke="#000" stroke-width="1.1"/>
<line x1="358.5" y1="244.2" x2="358.5" y2="281.8" stroke="#000" stroke-width="1.2"/><rect x="356.75" y="250.9" width="3.5" height="30.9" fill="#fff" stroke="#000" stroke-width="1.1"/>
<line x1="363.5" y1="238.4" x2="363.5" y2="262.3" stroke="#000" stroke-width="1.2"/><rect x="361.2" y="246.6" width="4.6" height="1.2" fill="#000"/>
<line x1="368.5" y1="240.4" x2="368.5" y2="260.0" stroke="#000" stroke-width="1.2"/><rect x="366.2" y="247.0" width="4.6" height="1.2" fill="#000"/>
<line x1="373.5" y1="227.6" x2="373.5" y2="252.8" stroke="#000" stroke-width="1.2"/><rect x="371.75" y="234.6" width="3.5" height="10.5" fill="#fff" stroke="#000" stroke-width="1.1"/>
<line x1="378.5" y1="222.6" x2="378.5" y2="240.9" stroke="#d4002c" stroke-width="1.2"/><rect x="376.75" y="237.5" width="3.5" height="3.4" fill="#fff" stroke="#d4002c" stroke-width="1.1"/>
<line x1="382.5" y1="233.3" x2="382.5" y2="248.0" stroke="#d4002c" stroke-width="1.2"/><rect x="380.2" y="238.4" width="4.6" height="7.1" fill="#d4002c"/>
<line x1="387.5" y1="236.5" x2="387.5" y2="248.6" stroke="#000" stroke-width="1.2"/><rect x="385.75" y="243.2" width="3.5" height="2.3" fill="#fff" stroke="#000" stroke-width="1.1"/>
<line x1="392.5" y1="216.9" x2="392.5" y2="247.4" stroke="#000" stroke-width="1.2"/><rect x="390.75" y="234.6" width="3.5" height="7.7" fill="#fff" stroke="#000" stroke-width="1.1"/>
<line x1="397.5" y1="225.6" x2="397.5" y2="240.4" stroke="#d4002c" stroke-width="1.2"/><rect x="395.2" y="234.0" width="4.6" height="2.5" fill="#d4002c"/>
<line x1="402.5" y1="234.6" x2="402.5" y2="257.6" stroke="#d4002c" stroke-width="1.2"/><rect x="400.2" y="237.9" width="4.6" height="11.4" fill="#d4002c"/>
<line x1="407.5" y1="247.0" x2="407.5" y2="262.7" stroke="#d4002c" stroke-width="1.2"/><rect x="405.2" y="248.6" width="4.6" height="11.8" fill="#d4002c"/>
<line x1="412.5" y1="242.3" x2="412.5" y2="258.1" stroke="#000" stroke-width="1.2"/><rect x="410.75" y="252.4" width="3.5" height="2.7" fill="#fff" stroke="#000" stroke-width="1.1"/>
<line x1="416.5" y1="246.1" x2="416.5" y2="257.6" stroke="#000" stroke-width="1.2"/><rect x="414.75" y="249.9" width="3.5" height="4.4" fill="#fff" stroke="#000" stroke-width="1.1"/>
<line x1="421.5" y1="247.4" x2="421.5" y2="262.3" stroke="#d4002c" stroke-width="1.2"/><rect x="419.2" y="250.5" width="4.6" height="1.2" fill="#d4002c"/>
<line x1="426.5" y1="251.3" x2="426.5" y2="267.7" stroke="#d4002c" stroke-width="1.2"/><rect x="424.2" y="251.3" width="4.6" height="13.3" fill="#d4002c"/>
<line x1="431.5" y1="260.0" x2="431.5" y2="274.8" stroke="#d4002c" stroke-width="1.2"/><rect x="429.2" y="262.0" width="4.6" height="3.8" fill="#d4002c"/>
<line x1="436.5" y1="261.4" x2="436.5" y2="271.9" stroke="#000" stroke-width="1.2"/><rect x="434.75" y="263.9" width="3.5" height="1.9" fill="#fff" stroke="#000" stroke-width="1.1"/>
<line x1="441.5" y1="251.8" x2="441.5" y2="269.0" stroke="#000" stroke-width="1.2"/><rect x="439.75" y="254.3" width="3.5" height="10.3" fill="#fff" stroke="#000" stroke-width="1.1"/>
<line x1="446.5" y1="245.1" x2="446.5" y2="259.5" stroke="#000" stroke-width="1.2"/><rect x="444.75" y="252.8" width="3.5" height="2.3" fill="#fff" stroke="#000" stroke-width="1.1"/>
<line x1="451.5" y1="242.3" x2="451.5" y2="261.4" stroke="#000" stroke-width="1.2"/><rect x="449.75" y="242.3" width="3.5" height="11.4" fill="#fff" stroke="#000" stroke-width="1.1"/>
<line x1="455.5" y1="239.0" x2="455.5" y2="257.6" stroke="#d4002c" stroke-width="1.2"/><rect x="453.2" y="243.2" width="4.6" height="7.7" fill="#d4002c"/>
<line x1="460.5" y1="249.0" x2="460.5" y2="260.8" stroke="#d4002c" stroke-width="1.2"/><rect x="458.2" y="249.0" width="4.6" height="9.9" fill="#d4002c"/>
<line x1="465.5" y1="259.5" x2="465.5" y2="270.0" stroke="#d4002c" stroke-width="1.2"/><rect x="463.2" y="259.5" width="4.6" height="9.5" fill="#d4002c"/>
<line x1="470.5" y1="257.6" x2="470.5" y2="269.0" stroke="#000" stroke-width="1.2"/><rect x="468.75" y="262.0" width="3.5" height="7.0" fill="#fff" stroke="#000" stroke-width="1.1"/>
<line x1="475.5" y1="249.0" x2="475.5" y2="262.0" stroke="#000" stroke-width="1.2"/><rect x="473.75" y="252.8" width="3.5" height="7.2" fill="#fff" stroke="#000" stroke-width="1.1"/>
<line x1="480.5" y1="250.9" x2="480.5" y2="262.3" stroke="#d4002c" stroke-width="1.2"/><rect x="478.2" y="252.8" width="4.6" height="8.0" fill="#d4002c"/>
<line x1="485.5" y1="256.2" x2="485.5" y2="268.1" stroke="#000" stroke-width="1.2"/><rect x="483.2" y="259.5" width="4.6" height="1.2" fill="#000"/>
<line x1="490.5" y1="251.8" x2="490.5" y2="263.3" stroke="#d4002c" stroke-width="1.2"/><rect x="488.2" y="260.0" width="4.6" height="1.2" fill="#d4002c"/>
<line x1="494.5" y1="259.5" x2="494.5" y2="286.2" stroke="#d4002c" stroke-width="1.2"/><rect x="492.2" y="259.5" width="4.6" height="25.8" fill="#d4002c"/>
<line x1="499.5" y1="285.3" x2="499.5" y2="299.7" stroke="#d4002c" stroke-width="1.2"/><rect x="497.2" y="285.7" width="4.6" height="6.3" fill="#d4002c"/>
<line x1="504.5" y1="260.5" x2="504.5" y2="287.3" stroke="#000" stroke-width="1.2"/><rect x="502.75" y="260.5" width="3.5" height="26.8" fill="#fff" stroke="#000" stroke-width="1.1"/>
<line x1="509.5" y1="239.5" x2="509.5" y2="267.2" stroke="#000" stroke-width="1.2"/><rect x="507.75" y="244.6" width="3.5" height="16.5" fill="#fff" stroke="#000" stroke-width="1.1"/>
<line x1="514.5" y1="236.2" x2="514.5" y2="254.2" stroke="#000" stroke-width="1.2"/><rect x="512.75" y="243.3" width="3.5" height="2.9" fill="#fff" stroke="#000" stroke-width="1.1"/>
<line x1="519.5" y1="236.6" x2="519.5" y2="248.5" stroke="#000" stroke-width="1.2"/><rect x="517.2" y="238.1" width="4.6" height="4.2" fill="#000"/>
<line x1="524.5" y1="242.0" x2="524.5" y2="263.4" stroke="#d4002c" stroke-width="1.2"/><rect x="522.2" y="242.0" width="4.6" height="20.4" fill="#d4002c"/>
<line x1="529.5" y1="242.0" x2="529.5" y2="263.0" stroke="#000" stroke-width="1.2"/><rect x="527.75" y="247.1" width="3.5" height="12.8" fill="#fff" stroke="#000" stroke-width="1.1"/>
<line x1="533.5" y1="238.9" x2="533.5" y2="253.4" stroke="#000" stroke-width="1.2"/><rect x="531.75" y="241.4" width="3.5" height="6.7" fill="#fff" stroke="#000" stroke-width="1.1"/>
<line x1="538.5" y1="214.0" x2="538.5" y2="241.4" stroke="#000" stroke-width="1.2"/><rect x="536.75" y="214.6" width="3.5" height="26.8" fill="#fff" stroke="#000" stroke-width="1.1"/>
<line x1="543.5" y1="196.9" x2="543.5" y2="239.5" stroke="#d4002c" stroke-width="1.2"/><rect x="541.2" y="213.7" width="4.6" height="25.8" fill="#d4002c"/>
<line x1="548.5" y1="224.2" x2="548.5" y2="246.2" stroke="#000" stroke-width="1.2"/><rect x="546.75" y="231.8" width="3.5" height="4.8" fill="#fff" stroke="#000" stroke-width="1.1"/>
<line x1="553.5" y1="217.1" x2="553.5" y2="233.7" stroke="#000" stroke-width="1.2"/><rect x="551.75" y="222.3" width="3.5" height="10.5" fill="#fff" stroke="#000" stroke-width="1.1"/>
<line x1="558.5" y1="212.7" x2="558.5" y2="223.2" stroke="#000" stroke-width="1.2"/><rect x="556.75" y="220.4" width="3.5" height="2.4" fill="#fff" stroke="#000" stroke-width="1.1"/>
<line x1="563.5" y1="215.6" x2="563.5" y2="233.7" stroke="#d4002c" stroke-width="1.2"/><rect x="561.2" y="220.9" width="4.6" height="7.1" fill="#d4002c"/>
<line x1="567.5" y1="221.3" x2="567.5" y2="238.1" stroke="#000" stroke-width="1.2"/><rect x="565.2" y="226.1" width="4.6" height="1.2" fill="#000"/>
<line x1="572.5" y1="223.2" x2="572.5" y2="241.4" stroke="#d4002c" stroke-width="1.2"/><rect x="570.2" y="226.1" width="4.6" height="7.6" fill="#d4002c"/>
<line x1="577.5" y1="229.9" x2="577.5" y2="241.4" stroke="#d4002c" stroke-width="1.2"/><rect x="575.2" y="231.8" width="4.6" height="5.8" fill="#d4002c"/>
<line x1="582.5" y1="216.5" x2="582.5" y2="236.6" stroke="#000" stroke-width="1.2"/><rect x="580.75" y="225.6" width="3.5" height="9.8" fill="#fff" stroke="#000" stroke-width="1.1"/>
<line x1="587.5" y1="223.2" x2="587.5" y2="233.1" stroke="#d4002c" stroke-width="1.2"/><rect x="585.2" y="224.5" width="4.6" height="6.3" fill="#d4002c"/>
<line x1="592.5" y1="229.5" x2="592.5" y2="245.0" stroke="#d4002c" stroke-width="1.2"/><rect x="590.2" y="230.3" width="4.6" height="5.0" fill="#d4002c"/>
<line x1="597.5" y1="226.0" x2="597.5" y2="236.5" stroke="#000" stroke-width="1.2"/><rect x="595.75" y="227.3" width="3.5" height="6.9" fill="#fff" stroke="#000" stroke-width="1.1"/>
<line x1="602.5" y1="212.0" x2="602.5" y2="232.6" stroke="#000" stroke-width="1.2"/><rect x="600.75" y="213.5" width="3.5" height="15.4" fill="#fff" stroke="#000" stroke-width="1.1"/>
<line x1="606.5" y1="183.0" x2="606.5" y2="215.0" stroke="#000" stroke-width="1.2"/><rect x="604.75" y="187.6" width="3.5" height="27.1" fill="#fff" stroke="#000" stroke-width="1.1"/>
<line x1="611.5" y1="184.9" x2="611.5" y2="196.3" stroke="#d4002c" stroke-width="1.2"/><rect x="609.2" y="186.0" width="4.6" height="8.5" fill="#d4002c"/>
<line x1="616.5" y1="176.8" x2="616.5" y2="199.1" stroke="#d4002c" stroke-width="1.2"/><rect x="614.2" y="191.7" width="4.6" height="2.8" fill="#d4002c"/>
<line x1="621.5" y1="170.0" x2="621.5" y2="194.0" stroke="#000" stroke-width="1.2"/><rect x="619.75" y="172.9" width="3.5" height="20.7" fill="#fff" stroke="#000" stroke-width="1.1"/>
<line x1="626.5" y1="143.5" x2="626.5" y2="170.6" stroke="#000" stroke-width="1.2"/><rect x="624.75" y="144.7" width="3.5" height="23.0" fill="#fff" stroke="#000" stroke-width="1.1"/>
<line x1="631.5" y1="117.9" x2="631.5" y2="150.9" stroke="#000" stroke-width="1.2"/><rect x="629.75" y="140.8" width="3.5" height="4.6" fill="#fff" stroke="#000" stroke-width="1.1"/>
<line x1="636.5" y1="121.8" x2="636.5" y2="147.0" stroke="#000" stroke-width="1.2"/><rect x="634.75" y="126.4" width="3.5" height="12.1" fill="#fff" stroke="#000" stroke-width="1.1"/>
<line x1="641.5" y1="128.0" x2="641.5" y2="155.0" stroke="#d4002c" stroke-width="1.2"/><rect x="639.2" y="129.4" width="4.6" height="15.3" fill="#d4002c"/>
<line x1="645.5" y1="141.3" x2="645.5" y2="160.8" stroke="#d4002c" stroke-width="1.2"/><rect x="643.2" y="143.6" width="4.6" height="10.3" fill="#d4002c"/>
<line x1="650.5" y1="133.9" x2="650.5" y2="156.2" stroke="#000" stroke-width="1.2"/><rect x="648.75" y="136.2" width="3.5" height="17.0" fill="#fff" stroke="#000" stroke-width="1.1"/>
<line x1="655.5" y1="122.5" x2="655.5" y2="143.6" stroke="#000" stroke-width="1.2"/><rect x="653.75" y="125.2" width="3.5" height="12.6" fill="#fff" stroke="#000" stroke-width="1.1"/>
<line x1="660.5" y1="115.6" x2="660.5" y2="149.3" stroke="#d4002c" stroke-width="1.2"/><rect x="658.2" y="124.1" width="4.6" height="23.6" fill="#d4002c"/>
<line x1="665.5" y1="133.3" x2="665.5" y2="147.0" stroke="#000" stroke-width="1.2"/><rect x="663.75" y="144.0" width="3.5" height="2.3" fill="#fff" stroke="#000" stroke-width="1.1"/>
<line x1="670.5" y1="128.7" x2="670.5" y2="154.6" stroke="#d4002c" stroke-width="1.2"/><rect x="668.2" y="144.0" width="4.6" height="6.2" fill="#d4002c"/>
<line x1="675.5" y1="140.8" x2="675.5" y2="155.0" stroke="#000" stroke-width="1.2"/><rect x="673.75" y="142.4" width="3.5" height="11.5" fill="#fff" stroke="#000" stroke-width="1.1"/>
<line x1="680.5" y1="134.4" x2="680.5" y2="150.4" stroke="#d4002c" stroke-width="1.2"/><rect x="678.2" y="142.4" width="4.6" height="5.7" fill="#d4002c"/>
<line x1="684.5" y1="142.4" x2="684.5" y2="155.0" stroke="#000" stroke-width="1.2"/><rect x="682.2" y="145.8" width="4.6" height="1.2" fill="#000"/>
<line x1="689.5" y1="129.5" x2="689.5" y2="148.8" stroke="#000" stroke-width="1.2"/><rect x="687.75" y="130.5" width="3.5" height="16.5" fill="#fff" stroke="#000" stroke-width="1.1"/>
<line x1="694.5" y1="121.7" x2="694.5" y2="141.2" stroke="#000" stroke-width="1.2"/><rect x="692.75" y="124.0" width="3.5" height="6.9" fill="#fff" stroke="#000" stroke-width="1.1"/>
<line x1="699.5" y1="108.0" x2="699.5" y2="132.0" stroke="#d4002c" stroke-width="1.2"/><rect x="697.2" y="125.2" width="4.6" height="5.3" fill="#d4002c"/>
<line x1="704.5" y1="121.7" x2="704.5" y2="142.4" stroke="#d4002c" stroke-width="1.2"/><rect x="702.2" y="129.0" width="4.6" height="6.5" fill="#d4002c"/>
<line x1="709.5" y1="100.0" x2="709.5" y2="126.3" stroke="#000" stroke-width="1.2"/><rect x="707.75" y="112.1" width="3.5" height="9.6" fill="#fff" stroke="#000" stroke-width="1.1"/>
<line x1="714.5" y1="105.7" x2="714.5" y2="129.0" stroke="#000" stroke-width="1.2"/><rect x="712.2" y="107.5" width="4.6" height="4.6" fill="#000"/>
<line x1="718.5" y1="93.0" x2="718.5" y2="114.0" stroke="#000" stroke-width="1.2"/><rect x="716.75" y="95.4" width="3.5" height="18.3" fill="#fff" stroke="#000" stroke-width="1.1"/>
<line x1="723.5" y1="88.5" x2="723.5" y2="103.4" stroke="#000" stroke-width="1.2"/><rect x="721.2" y="91.9" width="4.6" height="1.2" fill="#000"/>
<line x1="728.5" y1="90.0" x2="728.5" y2="99.0" stroke="#d4002c" stroke-width="1.2"/><rect x="726.2" y="94.2" width="4.6" height="4.1" fill="#d4002c"/>
<line x1="733.5" y1="90.8" x2="733.5" y2="104.5" stroke="#d4002c" stroke-width="1.2"/><rect x="731.2" y="96.0" width="4.6" height="3.3" fill="#d4002c"/>
<line x1="738.5" y1="77.5" x2="738.5" y2="101.6" stroke="#000" stroke-width="1.2"/><rect x="736.75" y="78.2" width="3.5" height="20.1" fill="#fff" stroke="#000" stroke-width="1.1"/>
<line x1="743.5" y1="70.5" x2="743.5" y2="87.3" stroke="#000" stroke-width="1.2"/><rect x="741.75" y="71.3" width="3.5" height="8.0" fill="#fff" stroke="#000" stroke-width="1.1"/>
<line x1="748.5" y1="55.2" x2="748.5" y2="72.0" stroke="#000" stroke-width="1.2"/><rect x="746.75" y="65.5" width="3.5" height="6.2" fill="#fff" stroke="#000" stroke-width="1.1"/>
<line x1="753.5" y1="58.7" x2="753.5" y2="69.0" stroke="#d4002c" stroke-width="1.2"/><rect x="751.2" y="62.1" width="4.6" height="4.1" fill="#d4002c"/>
<line x1="757.5" y1="62.0" x2="757.5" y2="75.9" stroke="#000" stroke-width="1.2"/><rect x="755.2" y="63.3" width="4.6" height="1.6" fill="#000"/>
<line x1="762.5" y1="49.5" x2="762.5" y2="64.2" stroke="#000" stroke-width="1.2"/><rect x="760.75" y="50.6" width="3.5" height="13.3" fill="#fff" stroke="#000" stroke-width="1.1"/>
<line x1="767.5" y1="41.0" x2="767.5" y2="52.8" stroke="#000" stroke-width="1.2"/><rect x="765.75" y="45.2" width="3.5" height="4.1" fill="#fff" stroke="#000" stroke-width="1.1"/>
<line x1="772.5" y1="33.8" x2="772.5" y2="49.3" stroke="#d4002c" stroke-width="1.2"/><rect x="770.2" y="46.2" width="4.6" height="1.4" fill="#d4002c"/>
<line x1="777.5" y1="43.8" x2="777.5" y2="67.0" stroke="#d4002c" stroke-width="1.2"/><rect x="775.2" y="48.0" width="4.6" height="10.5" fill="#d4002c"/>
<line x1="782.5" y1="58.5" x2="782.5" y2="94.7" stroke="#d4002c" stroke-width="1.2"/><rect x="780.2" y="59.4" width="4.6" height="28.5" fill="#d4002c"/>
<line x1="787.5" y1="54.0" x2="787.5" y2="88.7" stroke="#000" stroke-width="1.2"/><rect x="785.75" y="54.1" width="3.5" height="34.4" fill="#fff" stroke="#000" stroke-width="1.1"/>
<line x1="792.5" y1="52.5" x2="792.5" y2="80.3" stroke="#d4002c" stroke-width="1.2"/><rect x="790.2" y="53.5" width="4.6" height="8.2" fill="#d4002c"/>
<line x1="796.5" y1="61.0" x2="796.5" y2="72.3" stroke="#d4002c" stroke-width="1.2"/><rect x="794.2" y="63.0" width="4.6" height="4.2" fill="#d4002c"/>
<line x1="801.5" y1="44.2" x2="801.5" y2="69.8" stroke="#000" stroke-width="1.2"/><rect x="799.75" y="63.3" width="3.5" height="3.2" fill="#fff" stroke="#000" stroke-width="1.1"/>
<line x1="806.5" y1="61.0" x2="806.5" y2="82.4" stroke="#d4002c" stroke-width="1.2"/><rect x="804.2" y="65.2" width="4.6" height="5.5" fill="#d4002c"/>
<line x1="811.5" y1="70.0" x2="811.5" y2="75.5" stroke="#d4002c" stroke-width="1.2"/><rect x="809.2" y="71.3" width="4.6" height="1.4" fill="#d4002c"/>
</g>
<g>
<line x1="46.5" y1="511.0" x2="46.5" y2="531.3" stroke="#ff6600" stroke-width="1.2"/><rect x="44.75" y="512.1" width="3.5" height="15.0" fill="#fff" stroke="#ff6600" stroke-width="1.1"/>
<line x1="51.5" y1="508.0" x2="51.5" y2="520.6" stroke="#ff6600" stroke-width="1.2"/><rect x="49.75" y="508.9" width="3.5" height="2.7" fill="#fff" stroke="#ff6600" stroke-width="1.1"/>
<line x1="56.5" y1="506.7" x2="56.5" y2="534.6" stroke="#ff6600" stroke-width="1.2"/><rect x="54.2" y="514.2" width="4.6" height="16.1" fill="#ff6600"/>
<line x1="61.5" y1="511.0" x2="61.5" y2="535.6" stroke="#ff6600" stroke-width="1.2"/><rect x="59.75" y="520.6" width="3.5" height="11.2" fill="#fff" stroke="#ff6600" stroke-width="1.1"/>
<line x1="66.5" y1="497.5" x2="66.5" y2="526.0" stroke="#ff6600" stroke-width="1.2"/><rect x="64.75" y="516.8" width="3.5" height="5.6" fill="#fff" stroke="#ff6600" stroke-width="1.1"/>
<line x1="71.5" y1="516.4" x2="71.5" y2="550.2" stroke="#ff6600" stroke-width="1.2"/><rect x="69.2" y="518.9" width="4.6" height="27.9" fill="#ff6600"/>
<line x1="75.5" y1="528.8" x2="75.5" y2="545.9" stroke="#ff6600" stroke-width="1.2"/><rect x="73.75" y="537.3" width="3.5" height="6.9" fill="#fff" stroke="#ff6600" stroke-width="1.1"/>
<line x1="80.5" y1="510.4" x2="80.5" y2="536.0" stroke="#ff6600" stroke-width="1.2"/><rect x="78.75" y="513.1" width="3.5" height="22.5" fill="#fff" stroke="#ff6600" stroke-width="1.1"/>
<line x1="85.5" y1="493.9" x2="85.5" y2="521.7" stroke="#ff6600" stroke-width="1.2"/><rect x="83.75" y="503.5" width="3.5" height="8.6" fill="#fff" stroke="#ff6600" stroke-width="1.1"/>
<line x1="90.5" y1="485.3" x2="90.5" y2="512.1" stroke="#ff6600" stroke-width="1.2"/><rect x="88.2" y="501.4" width="4.6" height="1.7" fill="#ff6600"/>
<line x1="95.5" y1="473.5" x2="95.5" y2="504.6" stroke="#ff6600" stroke-width="1.2"/><rect x="93.75" y="474.0" width="3.5" height="23.1" fill="#fff" stroke="#ff6600" stroke-width="1.1"/>
<line x1="100.5" y1="445.3" x2="100.5" y2="478.2" stroke="#ff6600" stroke-width="1.2"/><rect x="98.75" y="465.4" width="3.5" height="7.1" fill="#fff" stroke="#ff6600" stroke-width="1.1"/>
<line x1="105.5" y1="458.5" x2="105.5" y2="492.4" stroke="#ff6600" stroke-width="1.2"/><rect x="103.75" y="470.3" width="3.5" height="2.2" fill="#fff" stroke="#ff6600" stroke-width="1.1"/>
<line x1="110.5" y1="453.8" x2="110.5" y2="474.6" stroke="#ff6600" stroke-width="1.2"/><rect x="108.75" y="461.1" width="3.5" height="8.6" fill="#fff" stroke="#ff6600" stroke-width="1.1"/>
<line x1="114.5" y1="460.7" x2="114.5" y2="485.3" stroke="#ff6600" stroke-width="1.2"/><rect x="112.75" y="462.4" width="3.5" height="6.4" fill="#fff" stroke="#ff6600" stroke-width="1.1"/>
<line x1="119.5" y1="455.3" x2="119.5" y2="479.5" stroke="#ff6600" stroke-width="1.2"/><rect x="117.2" y="458.1" width="4.6" height="2.2" fill="#ff6600"/>
<line x1="124.5" y1="439.7" x2="124.5" y2="465.4" stroke="#ff6600" stroke-width="1.2"/><rect x="122.75" y="440.3" width="3.5" height="14.0" fill="#fff" stroke="#ff6600" stroke-width="1.1"/>
<line x1="129.5" y1="434.2" x2="129.5" y2="483.2" stroke="#ff6600" stroke-width="1.2"/><rect x="127.2" y="434.6" width="4.6" height="46.4" fill="#ff6600"/>
<line x1="134.5" y1="489.5" x2="134.5" y2="507.6" stroke="#ff6600" stroke-width="1.2"/><rect x="132.2" y="493.0" width="4.6" height="9.0" fill="#ff6600"/>
<line x1="139.5" y1="490.2" x2="139.5" y2="515.4" stroke="#ff6600" stroke-width="1.2"/><rect x="137.2" y="510.1" width="4.6" height="3.4" fill="#ff6600"/>
<line x1="144.5" y1="522.0" x2="144.5" y2="562.8" stroke="#ff6600" stroke-width="1.2"/><rect x="142.2" y="522.7" width="4.6" height="24.1" fill="#ff6600"/>
<line x1="149.5" y1="526.1" x2="149.5" y2="547.9" stroke="#ff6600" stroke-width="1.2"/><rect x="147.75" y="530.0" width="3.5" height="15.6" fill="#fff" stroke="#ff6600" stroke-width="1.1"/>
<line x1="153.5" y1="520.0" x2="153.5" y2="540.0" stroke="#ff6600" stroke-width="1.2"/><rect x="151.75" y="524.0" width="3.5" height="12.0" fill="#fff" stroke="#ff6600" stroke-width="1.1"/>
<line x1="158.5" y1="522.0" x2="158.5" y2="538.0" stroke="#ff6600" stroke-width="1.2"/><rect x="156.2" y="526.0" width="4.6" height="8.0" fill="#ff6600"/>
<line x1="163.5" y1="520.0" x2="163.5" y2="544.4" stroke="#ff6600" stroke-width="1.2"/><rect x="161.2" y="524.0" width="4.6" height="12.0" fill="#ff6600"/>
<line x1="168.5" y1="528.0" x2="168.5" y2="557.0" stroke="#ff6600" stroke-width="1.2"/><rect x="166.2" y="530.0" width="4.6" height="17.9" fill="#ff6600"/>
<line x1="173.5" y1="543.3" x2="173.5" y2="563.4" stroke="#ff6600" stroke-width="1.2"/><rect x="171.2" y="547.9" width="4.6" height="11.4" fill="#ff6600"/>
<line x1="178.5" y1="558.0" x2="178.5" y2="575.0" stroke="#ff6600" stroke-width="1.2"/><rect x="176.2" y="559.3" width="4.6" height="12.7" fill="#ff6600"/>
<line x1="183.5" y1="570.0" x2="183.5" y2="590.0" stroke="#ff6600" stroke-width="1.2"/><rect x="181.2" y="572.0" width="4.6" height="13.0" fill="#ff6600"/>
<line x1="188.5" y1="583.0" x2="188.5" y2="604.0" stroke="#ff6600" stroke-width="1.2"/><rect x="186.2" y="585.0" width="4.6" height="15.0" fill="#ff6600"/>
<line x1="192.5" y1="585.0" x2="192.5" y2="606.0" stroke="#ff6600" stroke-width="1.2"/><rect x="190.75" y="590.0" width="3.5" height="10.0" fill="#fff" stroke="#ff6600" stroke-width="1.1"/>
<line x1="197.5" y1="570.0" x2="197.5" y2="595.0" stroke="#ff6600" stroke-width="1.2"/><rect x="195.75" y="575.0" width="3.5" height="15.0" fill="#fff" stroke="#ff6600" stroke-width="1.1"/>
<line x1="202.5" y1="565.0" x2="202.5" y2="580.0" stroke="#ff6600" stroke-width="1.2"/><rect x="200.75" y="570.0" width="3.5" height="6.0" fill="#fff" stroke="#ff6600" stroke-width="1.1"/>
<line x1="207.5" y1="559.3" x2="207.5" y2="575.0" stroke="#ff6600" stroke-width="1.2"/><rect x="205.75" y="565.0" width="3.5" height="7.0" fill="#fff" stroke="#ff6600" stroke-width="1.1"/>
<line x1="212.5" y1="565.0" x2="212.5" y2="588.0" stroke="#ff6600" stroke-width="1.2"/><rect x="210.2" y="567.0" width="4.6" height="18.0" fill="#ff6600"/>
<line x1="217.5" y1="583.0" x2="217.5" y2="596.0" stroke="#ff6600" stroke-width="1.2"/><rect x="215.2" y="586.0" width="4.6" height="6.0" fill="#ff6600"/>
<line x1="222.5" y1="588.0" x2="222.5" y2="610.0" stroke="#ff6600" stroke-width="1.2"/><rect x="220.2" y="590.0" width="4.6" height="14.0" fill="#ff6600"/>
<line x1="226.5" y1="592.0" x2="226.5" y2="610.0" stroke="#ff6600" stroke-width="1.2"/><rect x="224.75" y="598.0" width="3.5" height="5.0" fill="#fff" stroke="#ff6600" stroke-width="1.1"/>
<line x1="231.5" y1="596.0" x2="231.5" y2="622.0" stroke="#ff6600" stroke-width="1.2"/><rect x="229.2" y="600.0" width="4.6" height="15.0" fill="#ff6600"/>
<line x1="236.5" y1="612.0" x2="236.5" y2="627.0" stroke="#ff6600" stroke-width="1.2"/><rect x="234.2" y="615.0" width="4.6" height="10.0" fill="#ff6600"/>
<line x1="241.5" y1="612.0" x2="241.5" y2="631.7" stroke="#ff6600" stroke-width="1.2"/><rect x="239.75" y="618.0" width="3.5" height="8.0" fill="#fff" stroke="#ff6600" stroke-width="1.1"/>
<line x1="246.5" y1="596.0" x2="246.5" y2="620.0" stroke="#ff6600" stroke-width="1.2"/><rect x="244.75" y="602.0" width="3.5" height="16.0" fill="#fff" stroke="#ff6600" stroke-width="1.1"/>
<line x1="251.5" y1="600.0" x2="251.5" y2="625.0" stroke="#ff6600" stroke-width="1.2"/><rect x="249.2" y="602.0" width="4.6" height="20.0" fill="#ff6600"/>
<line x1="256.5" y1="610.0" x2="256.5" y2="627.0" stroke="#ff6600" stroke-width="1.2"/><rect x="254.75" y="614.0" width="3.5" height="7.0" fill="#fff" stroke="#ff6600" stroke-width="1.1"/>
<line x1="261.5" y1="608.0" x2="261.5" y2="624.0" stroke="#ff6600" stroke-width="1.2"/><rect x="259.2" y="612.0" width="4.6" height="8.0" fill="#ff6600"/>
<line x1="265.5" y1="600.0" x2="265.5" y2="626.0" stroke="#ff6600" stroke-width="1.2"/><rect x="263.75" y="604.0" width="3.5" height="14.0" fill="#fff" stroke="#ff6600" stroke-width="1.1"/>
<line x1="270.5" y1="572.0" x2="270.5" y2="606.0" stroke="#ff6600" stroke-width="1.2"/><rect x="268.75" y="575.0" width="3.5" height="27.0" fill="#fff" stroke="#ff6600" stroke-width="1.1"/>
<line x1="275.5" y1="559.3" x2="275.5" y2="578.0" stroke="#ff6600" stroke-width="1.2"/><rect x="273.2" y="566.0" width="4.6" height="8.0" fill="#ff6600"/>
<line x1="280.5" y1="552.0" x2="280.5" y2="574.0" stroke="#ff6600" stroke-width="1.2"/><rect x="278.75" y="554.7" width="3.5" height="15.3" fill="#fff" stroke="#ff6600" stroke-width="1.1"/>
<line x1="285.5" y1="542.8" x2="285.5" y2="566.0" stroke="#ff6600" stroke-width="1.2"/><rect x="283.75" y="545.6" width="3.5" height="17.1" fill="#fff" stroke="#ff6600" stroke-width="1.1"/>
<line x1="290.5" y1="544.4" x2="290.5" y2="562.7" stroke="#ff6600" stroke-width="1.2"/><rect x="288.2" y="549.0" width="4.6" height="10.3" fill="#ff6600"/>
<line x1="295.5" y1="543.3" x2="295.5" y2="566.0" stroke="#ff6600" stroke-width="1.2"/><rect x="293.2" y="558.8" width="4.6" height="2.8" fill="#ff6600"/>
<line x1="300.5" y1="547.9" x2="300.5" y2="565.0" stroke="#ff6600" stroke-width="1.2"/><rect x="298.75" y="552.4" width="3.5" height="9.2" fill="#fff" stroke="#ff6600" stroke-width="1.1"/>
<line x1="304.5" y1="541.0" x2="304.5" y2="559.3" stroke="#ff6600" stroke-width="1.2"/><rect x="302.2" y="550.1" width="4.6" height="6.9" fill="#ff6600"/>
<line x1="309.5" y1="530.0" x2="309.5" y2="551.0" stroke="#ff6600" stroke-width="1.2"/><rect x="307.75" y="532.0" width="3.5" height="18.1" fill="#fff" stroke="#ff6600" stroke-width="1.1"/>
<line x1="314.5" y1="518.0" x2="314.5" y2="534.0" stroke="#ff6600" stroke-width="1.2"/><rect x="312.75" y="520.0" width="3.5" height="12.0" fill="#fff" stroke="#ff6600" stroke-width="1.1"/>
<line x1="319.5" y1="512.0" x2="319.5" y2="528.0" stroke="#ff6600" stroke-width="1.2"/><rect x="317.75" y="515.0" width="3.5" height="6.0" fill="#fff" stroke="#ff6600" stroke-width="1.1"/>
<line x1="324.5" y1="510.0" x2="324.5" y2="526.0" stroke="#ff6600" stroke-width="1.2"/><rect x="322.2" y="516.0" width="4.6" height="4.0" fill="#ff6600"/>
<line x1="329.5" y1="512.0" x2="329.5" y2="548.0" stroke="#ff6600" stroke-width="1.2"/><rect x="327.2" y="516.0" width="4.6" height="30.7" fill="#ff6600"/>
<line x1="334.5" y1="544.0" x2="334.5" y2="559.3" stroke="#ff6600" stroke-width="1.2"/><rect x="332.2" y="545.6" width="4.6" height="11.4" fill="#ff6600"/>
<line x1="339.5" y1="552.4" x2="339.5" y2="575.0" stroke="#ff6600" stroke-width="1.2"/><rect x="337.2" y="557.0" width="4.6" height="15.0" fill="#ff6600"/>
<line x1="343.5" y1="555.0" x2="343.5" y2="576.0" stroke="#ff6600" stroke-width="1.2"/><rect x="341.75" y="558.0" width="3.5" height="14.0" fill="#fff" stroke="#ff6600" stroke-width="1.1"/>
<line x1="348.5" y1="556.0" x2="348.5" y2="575.0" stroke="#ff6600" stroke-width="1.2"/><rect x="346.75" y="559.3" width="3.5" height="12.7" fill="#fff" stroke="#ff6600" stroke-width="1.1"/>
<line x1="353.5" y1="553.0" x2="353.5" y2="570.0" stroke="#ff6600" stroke-width="1.2"/><rect x="351.75" y="556.0" width="3.5" height="4.0" fill="#fff" stroke="#ff6600" stroke-width="1.1"/>
<line x1="358.5" y1="542.0" x2="358.5" y2="564.0" stroke="#ff6600" stroke-width="1.2"/><rect x="356.75" y="546.7" width="3.5" height="16.3" fill="#fff" stroke="#ff6600" stroke-width="1.1"/>
<line x1="363.5" y1="528.0" x2="363.5" y2="557.0" stroke="#ff6600" stroke-width="1.2"/><rect x="361.75" y="530.0" width="3.5" height="15.6" fill="#fff" stroke="#ff6600" stroke-width="1.1"/>
<line x1="368.5" y1="520.0" x2="368.5" y2="546.7" stroke="#ff6600" stroke-width="1.2"/><rect x="366.75" y="524.0" width="3.5" height="20.4" fill="#fff" stroke="#ff6600" stroke-width="1.1"/>
<line x1="373.5" y1="508.0" x2="373.5" y2="528.0" stroke="#ff6600" stroke-width="1.2"/><rect x="371.75" y="512.0" width="3.5" height="12.0" fill="#fff" stroke="#ff6600" stroke-width="1.1"/>
<line x1="378.5" y1="506.0" x2="378.5" y2="524.0" stroke="#ff6600" stroke-width="1.2"/><rect x="376.2" y="512.0" width="4.6" height="6.0" fill="#ff6600"/>
<line x1="382.5" y1="514.0" x2="382.5" y2="528.0" stroke="#ff6600" stroke-width="1.2"/><rect x="380.2" y="516.0" width="4.6" height="8.0" fill="#ff6600"/>
<line x1="387.5" y1="514.0" x2="387.5" y2="528.0" stroke="#ff6600" stroke-width="1.2"/><rect x="385.75" y="518.0" width="3.5" height="6.0" fill="#fff" stroke="#ff6600" stroke-width="1.1"/>
<line x1="392.5" y1="505.0" x2="392.5" y2="526.0" stroke="#ff6600" stroke-width="1.2"/><rect x="390.75" y="512.0" width="3.5" height="8.0" fill="#fff" stroke="#ff6600" stroke-width="1.1"/>
<line x1="397.5" y1="510.0" x2="397.5" y2="528.0" stroke="#ff6600" stroke-width="1.2"/><rect x="395.2" y="514.0" width="4.6" height="8.0" fill="#ff6600"/>
<line x1="402.5" y1="518.0" x2="402.5" y2="541.0" stroke="#ff6600" stroke-width="1.2"/><rect x="400.2" y="522.0" width="4.6" height="14.0" fill="#ff6600"/>
<line x1="407.5" y1="534.0" x2="407.5" y2="555.9" stroke="#ff6600" stroke-width="1.2"/><rect x="405.2" y="536.0" width="4.6" height="15.3" fill="#ff6600"/>
<line x1="412.5" y1="536.0" x2="412.5" y2="551.3" stroke="#ff6600" stroke-width="1.2"/><rect x="410.75" y="538.7" width="3.5" height="10.3" fill="#fff" stroke="#ff6600" stroke-width="1.1"/>
<line x1="416.5" y1="538.0" x2="416.5" y2="546.0" stroke="#ff6600" stroke-width="1.2"/><rect x="414.2" y="540.0" width="4.6" height="2.0" fill="#ff6600"/>
<line x1="421.5" y1="539.0" x2="421.5" y2="550.1" stroke="#ff6600" stroke-width="1.2"/><rect x="419.2" y="541.0" width="4.6" height="4.6" fill="#ff6600"/>
<line x1="426.5" y1="546.0" x2="426.5" y2="562.7" stroke="#ff6600" stroke-width="1.2"/><rect x="424.2" y="549.0" width="4.6" height="10.3" fill="#ff6600"/>
<line x1="431.5" y1="553.0" x2="431.5" y2="563.0" stroke="#ff6600" stroke-width="1.2"/><rect x="429.75" y="555.9" width="3.5" height="4.5" fill="#fff" stroke="#ff6600" stroke-width="1.1"/>
<line x1="436.5" y1="547.9" x2="436.5" y2="562.7" stroke="#ff6600" stroke-width="1.2"/><rect x="434.2" y="554.7" width="4.6" height="6.4" fill="#ff6600"/>
<line x1="441.5" y1="534.0" x2="441.5" y2="562.0" stroke="#ff6600" stroke-width="1.2"/><rect x="439.75" y="536.0" width="3.5" height="25.6" fill="#fff" stroke="#ff6600" stroke-width="1.1"/>
<line x1="446.5" y1="532.0" x2="446.5" y2="544.0" stroke="#ff6600" stroke-width="1.2"/><rect x="444.2" y="535.0" width="4.6" height="6.0" fill="#ff6600"/>
<line x1="451.5" y1="536.0" x2="451.5" y2="551.0" stroke="#ff6600" stroke-width="1.2"/><rect x="449.2" y="538.0" width="4.6" height="11.0" fill="#ff6600"/>
<line x1="455.5" y1="543.0" x2="455.5" y2="561.6" stroke="#ff6600" stroke-width="1.2"/><rect x="453.2" y="545.6" width="4.6" height="12.5" fill="#ff6600"/>
<line x1="460.5" y1="553.0" x2="460.5" y2="563.0" stroke="#ff6600" stroke-width="1.2"/><rect x="458.2" y="555.9" width="4.6" height="3.4" fill="#ff6600"/>
<line x1="465.5" y1="558.0" x2="465.5" y2="566.0" stroke="#ff6600" stroke-width="1.2"/><rect x="463.2" y="560.4" width="4.6" height="2.3" fill="#ff6600"/>
<line x1="470.5" y1="553.0" x2="470.5" y2="572.0" stroke="#ff6600" stroke-width="1.2"/><rect x="468.75" y="557.0" width="3.5" height="13.0" fill="#fff" stroke="#ff6600" stroke-width="1.1"/>
<line x1="475.5" y1="545.1" x2="475.5" y2="571.0" stroke="#ff6600" stroke-width="1.2"/><rect x="473.75" y="558.1" width="3.5" height="9.9" fill="#fff" stroke="#ff6600" stroke-width="1.1"/>
<line x1="480.5" y1="556.0" x2="480.5" y2="572.0" stroke="#ff6600" stroke-width="1.2"/><rect x="478.2" y="560.0" width="4.6" height="8.0" fill="#ff6600"/>
<line x1="485.5" y1="552.0" x2="485.5" y2="570.0" stroke="#ff6600" stroke-width="1.2"/><rect x="483.75" y="555.8" width="3.5" height="12.2" fill="#fff" stroke="#ff6600" stroke-width="1.1"/>
<line x1="490.5" y1="553.0" x2="490.5" y2="578.0" stroke="#ff6600" stroke-width="1.2"/><rect x="488.2" y="555.0" width="4.6" height="20.0" fill="#ff6600"/>
<line x1="494.5" y1="572.0" x2="494.5" y2="594.0" stroke="#ff6600" stroke-width="1.2"/><rect x="492.2" y="575.0" width="4.6" height="15.0" fill="#ff6600"/>
<line x1="499.5" y1="588.0" x2="499.5" y2="604.0" stroke="#ff6600" stroke-width="1.2"/><rect x="497.2" y="590.0" width="4.6" height="8.0" fill="#ff6600"/>
<line x1="504.5" y1="570.0" x2="504.5" y2="598.0" stroke="#ff6600" stroke-width="1.2"/><rect x="502.75" y="574.0" width="3.5" height="22.0" fill="#fff" stroke="#ff6600" stroke-width="1.1"/>
<line x1="509.5" y1="555.8" x2="509.5" y2="576.0" stroke="#ff6600" stroke-width="1.2"/><rect x="507.75" y="563.0" width="3.5" height="9.0" fill="#fff" stroke="#ff6600" stroke-width="1.1"/>
<line x1="514.5" y1="560.0" x2="514.5" y2="570.0" stroke="#ff6600" stroke-width="1.2"/><rect x="512.75" y="562.0" width="3.5" height="4.0" fill="#fff" stroke="#ff6600" stroke-width="1.1"/>
<line x1="519.5" y1="554.3" x2="519.5" y2="570.0" stroke="#ff6600" stroke-width="1.2"/><rect x="517.75" y="557.3" width="3.5" height="8.7" fill="#fff" stroke="#ff6600" stroke-width="1.1"/>
<line x1="524.5" y1="555.8" x2="524.5" y2="566.0" stroke="#ff6600" stroke-width="1.2"/><rect x="522.2" y="558.1" width="4.6" height="4.6" fill="#ff6600"/>
<line x1="529.5" y1="560.0" x2="529.5" y2="580.3" stroke="#ff6600" stroke-width="1.2"/><rect x="527.75" y="562.0" width="3.5" height="16.0" fill="#fff" stroke="#ff6600" stroke-width="1.1"/>
<line x1="533.5" y1="550.0" x2="533.5" y2="560.0" stroke="#ff6600" stroke-width="1.2"/><rect x="531.75" y="553.5" width="3.5" height="3.1" fill="#fff" stroke="#ff6600" stroke-width="1.1"/>
<line x1="538.5" y1="526.0" x2="538.5" y2="551.0" stroke="#ff6600" stroke-width="1.2"/><rect x="536.75" y="526.7" width="3.5" height="23.7" fill="#fff" stroke="#ff6600" stroke-width="1.1"/>
<line x1="543.5" y1="530.5" x2="543.5" y2="550.0" stroke="#ff6600" stroke-width="1.2"/><rect x="541.2" y="532.8" width="4.6" height="16.9" fill="#ff6600"/>
<line x1="548.5" y1="532.1" x2="548.5" y2="550.0" stroke="#ff6600" stroke-width="1.2"/><rect x="546.75" y="541.3" width="3.5" height="4.5" fill="#fff" stroke="#ff6600" stroke-width="1.1"/>
<line x1="553.5" y1="521.8" x2="553.5" y2="541.0" stroke="#ff6600" stroke-width="1.2"/><rect x="551.75" y="529.0" width="3.5" height="10.7" fill="#fff" stroke="#ff6600" stroke-width="1.1"/>
<line x1="558.5" y1="522.4" x2="558.5" y2="539.1" stroke="#ff6600" stroke-width="1.2"/><rect x="556.2" y="527.0" width="4.6" height="10.5" fill="#ff6600"/>
<line x1="563.5" y1="533.0" x2="563.5" y2="550.0" stroke="#ff6600" stroke-width="1.2"/><rect x="561.2" y="535.4" width="4.6" height="13.6" fill="#ff6600"/>
<line x1="567.5" y1="543.0" x2="567.5" y2="549.0" stroke="#ff6600" stroke-width="1.2"/><rect x="565.75" y="544.0" width="3.5" height="4.0" fill="#fff" stroke="#ff6600" stroke-width="1.1"/>
<line x1="572.5" y1="556.0" x2="572.5" y2="571.6" stroke="#ff6600" stroke-width="1.2"/><rect x="570.2" y="557.4" width="4.6" height="10.9" fill="#ff6600"/>
<line x1="577.5" y1="557.4" x2="577.5" y2="572.1" stroke="#ff6600" stroke-width="1.2"/><rect x="575.75" y="566.2" width="3.5" height="4.4" fill="#fff" stroke="#ff6600" stroke-width="1.1"/>
<line x1="582.5" y1="557.0" x2="582.5" y2="569.7" stroke="#ff6600" stroke-width="1.2"/><rect x="580.2" y="563.6" width="4.6" height="3.6" fill="#ff6600"/>
<line x1="587.5" y1="569.0" x2="587.5" y2="578.2" stroke="#ff6600" stroke-width="1.2"/><rect x="585.2" y="570.9" width="4.6" height="4.9" fill="#ff6600"/>
<line x1="592.5" y1="572.1" x2="592.5" y2="591.2" stroke="#ff6600" stroke-width="1.2"/><rect x="590.2" y="576.5" width="4.6" height="2.0" fill="#ff6600"/>
<line x1="597.5" y1="575.8" x2="597.5" y2="588.0" stroke="#ff6600" stroke-width="1.2"/><rect x="595.2" y="577.0" width="4.6" height="2.0" fill="#ff6600"/>
<line x1="602.5" y1="571.5" x2="602.5" y2="590.5" stroke="#ff6600" stroke-width="1.2"/><rect x="600.75" y="572.6" width="3.5" height="9.8" fill="#fff" stroke="#ff6600" stroke-width="1.1"/>
<line x1="606.5" y1="547.0" x2="606.5" y2="570.0" stroke="#ff6600" stroke-width="1.2"/><rect x="604.75" y="547.7" width="3.5" height="21.5" fill="#fff" stroke="#ff6600" stroke-width="1.1"/>
<line x1="611.5" y1="545.0" x2="611.5" y2="556.2" stroke="#ff6600" stroke-width="1.2"/><rect x="609.75" y="546.4" width="3.5" height="6.2" fill="#fff" stroke="#ff6600" stroke-width="1.1"/>
<line x1="616.5" y1="544.0" x2="616.5" y2="556.2" stroke="#ff6600" stroke-width="1.2"/><rect x="614.2" y="545.2" width="4.6" height="4.9" fill="#ff6600"/>
<line x1="621.5" y1="528.0" x2="621.5" y2="548.0" stroke="#ff6600" stroke-width="1.2"/><rect x="619.75" y="529.3" width="3.5" height="18.0" fill="#fff" stroke="#ff6600" stroke-width="1.1"/>
<line x1="626.5" y1="504.0" x2="626.5" y2="530.5" stroke="#ff6600" stroke-width="1.2"/><rect x="624.75" y="504.8" width="3.5" height="19.6" fill="#fff" stroke="#ff6600" stroke-width="1.1"/>
<line x1="631.5" y1="484.0" x2="631.5" y2="512.2" stroke="#ff6600" stroke-width="1.2"/><rect x="629.2" y="501.7" width="4.6" height="2.4" fill="#ff6600"/>
<line x1="636.5" y1="500.5" x2="636.5" y2="519.5" stroke="#ff6600" stroke-width="1.2"/><rect x="634.2" y="501.7" width="4.6" height="2.4" fill="#ff6600"/>
<line x1="641.5" y1="502.0" x2="641.5" y2="522.0" stroke="#ff6600" stroke-width="1.2"/><rect x="639.75" y="503.1" width="3.5" height="14.7" fill="#fff" stroke="#ff6600" stroke-width="1.1"/>
<line x1="645.5" y1="498.2" x2="645.5" y2="518.8" stroke="#ff6600" stroke-width="1.2"/><rect x="643.2" y="500.7" width="4.6" height="14.7" fill="#ff6600"/>
<line x1="650.5" y1="494.0" x2="650.5" y2="509.7" stroke="#ff6600" stroke-width="1.2"/><rect x="648.75" y="495.0" width="3.5" height="13.0" fill="#fff" stroke="#ff6600" stroke-width="1.1"/>
<line x1="655.5" y1="470.5" x2="655.5" y2="500.0" stroke="#ff6600" stroke-width="1.2"/><rect x="653.75" y="471.3" width="3.5" height="23.7" fill="#fff" stroke="#ff6600" stroke-width="1.1"/>
<line x1="660.5" y1="464.5" x2="660.5" y2="491.4" stroke="#ff6600" stroke-width="1.2"/><rect x="658.2" y="470.6" width="4.6" height="14.7" fill="#ff6600"/>
<line x1="665.5" y1="474.0" x2="665.5" y2="484.0" stroke="#ff6600" stroke-width="1.2"/><rect x="663.2" y="476.7" width="4.6" height="3.7" fill="#ff6600"/>
<line x1="670.5" y1="479.0" x2="670.5" y2="506.0" stroke="#ff6600" stroke-width="1.2"/><rect x="668.2" y="480.4" width="4.6" height="25.2" fill="#ff6600"/>
<line x1="675.5" y1="492.6" x2="675.5" y2="511.4" stroke="#ff6600" stroke-width="1.2"/><rect x="673.2" y="503.1" width="4.6" height="3.5" fill="#ff6600"/>
<line x1="680.5" y1="492.6" x2="680.5" y2="513.4" stroke="#ff6600" stroke-width="1.2"/><rect x="678.75" y="501.7" width="3.5" height="7.3" fill="#fff" stroke="#ff6600" stroke-width="1.1"/>
<line x1="684.5" y1="496.3" x2="684.5" y2="509.7" stroke="#ff6600" stroke-width="1.2"/><rect x="682.2" y="498.2" width="4.6" height="5.4" fill="#ff6600"/>
<line x1="689.5" y1="477.9" x2="689.5" y2="507.3" stroke="#ff6600" stroke-width="1.2"/><rect x="687.75" y="481.1" width="3.5" height="22.0" fill="#fff" stroke="#ff6600" stroke-width="1.1"/>
<line x1="694.5" y1="458.4" x2="694.5" y2="487.7" stroke="#ff6600" stroke-width="1.2"/><rect x="692.75" y="461.5" width="3.5" height="22.5" fill="#fff" stroke="#ff6600" stroke-width="1.1"/>
<line x1="699.5" y1="453.5" x2="699.5" y2="476.0" stroke="#ff6600" stroke-width="1.2"/><rect x="697.2" y="461.0" width="4.6" height="14.3" fill="#ff6600"/>
<line x1="704.5" y1="464.8" x2="704.5" y2="488.7" stroke="#ff6600" stroke-width="1.2"/><rect x="702.2" y="474.9" width="4.6" height="11.9" fill="#ff6600"/>
<line x1="709.5" y1="471.5" x2="709.5" y2="495.4" stroke="#ff6600" stroke-width="1.2"/><rect x="707.2" y="484.9" width="4.6" height="7.6" fill="#ff6600"/>
<line x1="714.5" y1="494.4" x2="714.5" y2="515.0" stroke="#ff6600" stroke-width="1.2"/><rect x="712.75" y="500.2" width="3.5" height="14.3" fill="#fff" stroke="#ff6600" stroke-width="1.1"/>
<line x1="718.5" y1="469.0" x2="718.5" y2="498.0" stroke="#ff6600" stroke-width="1.2"/><rect x="716.75" y="469.6" width="3.5" height="27.7" fill="#fff" stroke="#ff6600" stroke-width="1.1"/>
<line x1="723.5" y1="455.2" x2="723.5" y2="473.0" stroke="#ff6600" stroke-width="1.2"/><rect x="721.75" y="461.0" width="3.5" height="11.5" fill="#fff" stroke="#ff6600" stroke-width="1.1"/>
<line x1="728.5" y1="458.0" x2="728.5" y2="478.8" stroke="#ff6600" stroke-width="1.2"/><rect x="726.2" y="459.0" width="4.6" height="15.4" fill="#ff6600"/>
<line x1="733.5" y1="478.0" x2="733.5" y2="501.1" stroke="#ff6600" stroke-width="1.2"/><rect x="731.2" y="479.1" width="4.6" height="19.2" fill="#ff6600"/>
<line x1="738.5" y1="449.5" x2="738.5" y2="497.3" stroke="#ff6600" stroke-width="1.2"/><rect x="736.75" y="451.4" width="3.5" height="27.7" fill="#fff" stroke="#ff6600" stroke-width="1.1"/>
<line x1="743.5" y1="439.9" x2="743.5" y2="462.9" stroke="#ff6600" stroke-width="1.2"/><rect x="741.75" y="445.7" width="3.5" height="5.7" fill="#fff" stroke="#ff6600" stroke-width="1.1"/>
<line x1="748.5" y1="429.4" x2="748.5" y2="450.5" stroke="#ff6600" stroke-width="1.2"/><rect x="746.75" y="445.1" width="3.5" height="1.4" fill="#fff" stroke="#ff6600" stroke-width="1.1"/>
<line x1="753.5" y1="442.8" x2="753.5" y2="458.1" stroke="#ff6600" stroke-width="1.2"/><rect x="751.2" y="448.5" width="4.6" height="5.8" fill="#ff6600"/>
<line x1="757.5" y1="441.9" x2="757.5" y2="469.2" stroke="#ff6600" stroke-width="1.2"/><rect x="755.75" y="448.2" width="3.5" height="9.0" fill="#fff" stroke="#ff6600" stroke-width="1.1"/>
<line x1="762.5" y1="411.8" x2="762.5" y2="451.4" stroke="#ff6600" stroke-width="1.2"/><rect x="760.75" y="413.2" width="3.5" height="34.4" fill="#fff" stroke="#ff6600" stroke-width="1.1"/>
<line x1="767.5" y1="399.2" x2="767.5" y2="423.7" stroke="#ff6600" stroke-width="1.2"/><rect x="765.2" y="404.6" width="4.6" height="16.8" fill="#ff6600"/>
<line x1="772.5" y1="413.2" x2="772.5" y2="436.1" stroke="#ff6600" stroke-width="1.2"/><rect x="770.2" y="421.4" width="4.6" height="11.8" fill="#ff6600"/>
<line x1="777.5" y1="430.4" x2="777.5" y2="459.1" stroke="#ff6600" stroke-width="1.2"/><rect x="775.2" y="432.3" width="4.6" height="15.3" fill="#ff6600"/>
<line x1="782.5" y1="459.0" x2="782.5" y2="483.9" stroke="#ff6600" stroke-width="1.2"/><rect x="780.2" y="461.0" width="4.6" height="21.0" fill="#ff6600"/>
<line x1="787.5" y1="454.3" x2="787.5" y2="470.5" stroke="#ff6600" stroke-width="1.2"/><rect x="785.75" y="456.2" width="3.5" height="13.0" fill="#fff" stroke="#ff6600" stroke-width="1.1"/>
<line x1="792.5" y1="460.0" x2="792.5" y2="470.5" stroke="#ff6600" stroke-width="1.2"/><rect x="790.75" y="461.6" width="3.5" height="6.1" fill="#fff" stroke="#ff6600" stroke-width="1.1"/>
<line x1="796.5" y1="450.5" x2="796.5" y2="468.6" stroke="#ff6600" stroke-width="1.2"/><rect x="794.2" y="461.9" width="4.6" height="1.4" fill="#ff6600"/>
<line x1="801.5" y1="435.5" x2="801.5" y2="468.6" stroke="#ff6600" stroke-width="1.2"/><rect x="799.2" y="452.0" width="4.6" height="14.7" fill="#ff6600"/>
<line x1="806.5" y1="464.0" x2="806.5" y2="490.6" stroke="#ff6600" stroke-width="1.2"/><rect x="804.2" y="464.8" width="4.6" height="23.0" fill="#ff6600"/>
<line x1="811.5" y1="483.4" x2="811.5" y2="491.6" stroke="#ff6600" stroke-width="1.2"/><rect x="809.2" y="486.2" width="4.6" height="1.6" fill="#ff6600"/>
</g>
<g fill="none" stroke="#a8a8a8" stroke-width="1" shape-rendering="crispEdges"><rect x="45.5" y="27.5" width="787.5" height="351.5"/><rect x="45.5" y="393" width="787.5" height="245.5"/></g>
<g font-size="10.2" fill="#000" letter-spacing="0.1">
<text x="836" y="363.6">1650</text>
<text x="836" y="345.2">1700</text>
<text x="836" y="327.4">1750</text>
<text x="836" y="310.0">1800</text>
<text x="836" y="293.2">1850</text>
<text x="836" y="276.8">1900</text>
<text x="836" y="260.8">1950</text>
<text x="836" y="245.2">2000</text>
<text x="836" y="230.0">2050</text>
<text x="836" y="215.2">2100</text>
<text x="836" y="200.7">2150</text>
<text x="836" y="186.5">2200</text>
<text x="836" y="172.7">2250</text>
<text x="836" y="159.2">2300</text>
<text x="836" y="145.9">2350</text>
<text x="836" y="133.0">2400</text>
<text x="836" y="120.3">2450</text>
<text x="836" y="107.9">2500</text>
<text x="836" y="95.7">2550</text>
<text x="836" y="83.7">2600</text>
<text x="836" y="72.0">2650</text>
<text x="836" y="60.5">2700</text>
<text x="836" y="49.2">2750</text>
<text x="836" y="38.1">2800</text>
<text x="836" y="634.0">25.0</text>
<text x="836" y="614.2">27.5</text>
<text x="836" y="594.4">30.0</text>
<text x="836" y="574.6">32.5</text>
<text x="836" y="554.8">35.0</text>
<text x="836" y="535.0">37.5</text>
<text x="836" y="515.2">40.0</text>
<text x="836" y="495.4">42.5</text>
<text x="836" y="475.6">45.0</text>
<text x="836" y="455.8">47.5</text>
<text x="836" y="436.0">50.0</text>
<text x="836" y="416.3">52.5</text>
</g>
<g stroke="#a8a8a8" stroke-width="1" shape-rendering="crispEdges">
<line x1="833" y1="361.5" x2="835" y2="361.5"/>
<line x1="833" y1="343.5" x2="835" y2="343.5"/>
<line x1="833" y1="325.5" x2="835" y2="325.5"/>
<line x1="833" y1="307.5" x2="835" y2="307.5"/>
<line x1="833" y1="290.5" x2="835" y2="290.5"/>
<line x1="833" y1="274.5" x2="835" y2="274.5"/>
<line x1="833" y1="258.5" x2="835" y2="258.5"/>
<line x1="833" y1="242.5" x2="835" y2="242.5"/>
<line x1="833" y1="227.5" x2="835" y2="227.5"/>
<line x1="833" y1="212.5" x2="835" y2="212.5"/>
<line x1="833" y1="198.5" x2="835" y2="198.5"/>
<line x1="833" y1="184.5" x2="835" y2="184.5"/>
<line x1="833" y1="170.5" x2="835" y2="170.5"/>
<line x1="833" y1="156.5" x2="835" y2="156.5"/>
<line x1="833" y1="143.5" x2="835" y2="143.5"/>
<line x1="833" y1="130.5" x2="835" y2="130.5"/>
<line x1="833" y1="118.5" x2="835" y2="118.5"/>
<line x1="833" y1="105.5" x2="835" y2="105.5"/>
<line x1="833" y1="93.5" x2="835" y2="93.5"/>
<line x1="833" y1="81.5" x2="835" y2="81.5"/>
<line x1="833" y1="69.5" x2="835" y2="69.5"/>
<line x1="833" y1="58.5" x2="835" y2="58.5"/>
<line x1="833" y1="46.5" x2="835" y2="46.5"/>
<line x1="833" y1="35.5" x2="835" y2="35.5"/>
<line x1="833" y1="631.5" x2="835" y2="631.5"/>
<line x1="833" y1="611.5" x2="835" y2="611.5"/>
<line x1="833" y1="592.5" x2="835" y2="592.5"/>
<line x1="833" y1="572.5" x2="835" y2="572.5"/>
<line x1="833" y1="552.5" x2="835" y2="552.5"/>
<line x1="833" y1="532.5" x2="835" y2="532.5"/>
<line x1="833" y1="512.5" x2="835" y2="512.5"/>
<line x1="833" y1="493.5" x2="835" y2="493.5"/>
<line x1="833" y1="473.5" x2="835" y2="473.5"/>
<line x1="833" y1="453.5" x2="835" y2="453.5"/>
<line x1="833" y1="433.5" x2="835" y2="433.5"/>
<line x1="833" y1="413.5" x2="835" y2="413.5"/>
<line x1="43.0" y1="365.5" x2="45.5" y2="365.5"/>
<line x1="43.0" y1="350.5" x2="45.5" y2="350.5"/>
<line x1="43.0" y1="336.5" x2="45.5" y2="336.5"/>
<line x1="43.0" y1="322.5" x2="45.5" y2="322.5"/>
<line x1="43.0" y1="307.5" x2="45.5" y2="307.5"/>
<line x1="43.0" y1="293.5" x2="45.5" y2="293.5"/>
<line x1="43.0" y1="278.5" x2="45.5" y2="278.5"/>
</g>
<g font-size="9.8" fill="#000" text-anchor="end" letter-spacing="0.35">
<text x="42.3" y="368.2">25M</text>
<text x="42.3" y="353.9">50M</text>
<text x="42.3" y="339.5">75M</text>
<text x="42.3" y="325.1">100M</text>
<text x="42.3" y="310.7">125M</text>
<text x="42.3" y="296.4">150M</text>
<text x="42.3" y="282.0">175M</text>
</g>
<text x="56.5" y="389.5" font-size="10.5" font-weight="bold" text-anchor="middle">2022</text>
<text x="80.9" y="389.5" font-size="9.5" text-anchor="middle" letter-spacing="0.4">Feb</text>
<text x="100.3" y="389.5" font-size="9.5" text-anchor="middle" letter-spacing="0.4">Mar</text>
<text x="119.8" y="389.5" font-size="9.5" text-anchor="middle" letter-spacing="0.4">Apr</text>
<text x="139.3" y="389.5" font-size="9.5" text-anchor="middle" letter-spacing="0.4">May</text>
<text x="163.7" y="389.5" font-size="9.5" text-anchor="middle" letter-spacing="0.4">Jun</text>
<text x="183.2" y="389.5" font-size="9.5" text-anchor="middle" letter-spacing="0.4">Jul</text>
<text x="202.6" y="389.5" font-size="9.5" text-anchor="middle" letter-spacing="0.4">Aug</text>
<text x="227.0" y="389.5" font-size="9.5" text-anchor="middle" letter-spacing="0.4">Sep</text>
<text x="246.5" y="389.5" font-size="9.5" text-anchor="middle" letter-spacing="0.4">Oct</text>
<text x="270.8" y="389.5" font-size="9.5" text-anchor="middle" letter-spacing="0.4">Nov</text>
<text x="309.8" y="389.5" font-size="10.5" font-weight="bold" text-anchor="middle">2023</text>
<text x="334.2" y="389.5" font-size="9.5" text-anchor="middle" letter-spacing="0.4">Feb</text>
<text x="353.6" y="389.5" font-size="9.5" text-anchor="middle" letter-spacing="0.4">Mar</text>
<text x="373.1" y="389.5" font-size="9.5" text-anchor="middle" letter-spacing="0.4">Apr</text>
<text x="392.6" y="389.5" font-size="9.5" text-anchor="middle" letter-spacing="0.4">May</text>
<text x="417.0" y="389.5" font-size="9.5" text-anchor="middle" letter-spacing="0.4">Jun</text>
<text x="436.5" y="389.5" font-size="9.5" text-anchor="middle" letter-spacing="0.4">Jul</text>
<text x="460.8" y="389.5" font-size="9.5" text-anchor="middle" letter-spacing="0.4">Aug</text>
<text x="480.3" y="389.5" font-size="9.5" text-anchor="middle" letter-spacing="0.4">Sep</text>
<text x="499.8" y="389.5" font-size="9.5" text-anchor="middle" letter-spacing="0.4">Oct</text>
<text x="524.1" y="389.5" font-size="9.5" text-anchor="middle" letter-spacing="0.4">Nov</text>
<text x="563.1" y="389.5" font-size="10.5" font-weight="bold" text-anchor="middle">2024</text>
<text x="587.5" y="389.5" font-size="9.5" text-anchor="middle" letter-spacing="0.4">Feb</text>
<text x="607.0" y="389.5" font-size="9.5" text-anchor="middle" letter-spacing="0.4">Mar</text>
<text x="626.4" y="389.5" font-size="9.5" text-anchor="middle" letter-spacing="0.4">Apr</text>
<text x="650.8" y="389.5" font-size="9.5" text-anchor="middle" letter-spacing="0.4">May</text>
<text x="670.3" y="389.5" font-size="9.5" text-anchor="middle" letter-spacing="0.4">Jun</text>
<text x="689.8" y="389.5" font-size="9.5" text-anchor="middle" letter-spacing="0.4">Jul</text>
<text x="714.1" y="389.5" font-size="9.5" text-anchor="middle" letter-spacing="0.4">Aug</text>
<text x="733.6" y="389.5" font-size="9.5" text-anchor="middle" letter-spacing="0.4">Sep</text>
<text x="758.0" y="389.5" font-size="9.5" text-anchor="middle" letter-spacing="0.4">Oct</text>
<text x="777.5" y="389.5" font-size="9.5" text-anchor="middle" letter-spacing="0.4">Nov</text>
<text x="796.9" y="389.5" font-size="9.5" text-anchor="middle" letter-spacing="0.4">Dec</text>
<text x="821.3" y="389.5" font-size="10.5" font-weight="bold" text-anchor="middle">2025</text>
<text x="56.5" y="649" font-size="10.5" font-weight="bold" text-anchor="middle">2022</text>
<text x="80.9" y="649" font-size="9.5" text-anchor="middle" letter-spacing="0.4">Feb</text>
<text x="100.3" y="649" font-size="9.5" text-anchor="middle" letter-spacing="0.4">Mar</text>
<text x="119.8" y="649" font-size="9.5" text-anchor="middle" letter-spacing="0.4">Apr</text>
<text x="139.3" y="649" font-size="9.5" text-anchor="middle" letter-spacing="0.4">May</text>
<text x="163.7" y="649" font-size="9.5" text-anchor="middle" letter-spacing="0.4">Jun</text>
<text x="183.2" y="649" font-size="9.5" text-anchor="middle" letter-spacing="0.4">Jul</text>
<text x="202.6" y="649" font-size="9.5" text-anchor="middle" letter-spacing="0.4">Aug</text>
<text x="227.0" y="649" font-size="9.5" text-anchor="middle" letter-spacing="0.4">Sep</text>
<text x="246.5" y="649" font-size="9.5" text-anchor="middle" letter-spacing="0.4">Oct</text>
<text x="270.8" y="649" font-size="9.5" text-anchor="middle" letter-spacing="0.4">Nov</text>
<text x="309.8" y="649" font-size="10.5" font-weight="bold" text-anchor="middle">2023</text>
<text x="334.2" y="649" font-size="9.5" text-anchor="middle" letter-spacing="0.4">Feb</text>
<text x="353.6" y="649" font-size="9.5" text-anchor="middle" letter-spacing="0.4">Mar</text>
<text x="373.1" y="649" font-size="9.5" text-anchor="middle" letter-spacing="0.4">Apr</text>
<text x="392.6" y="649" font-size="9.5" text-anchor="middle" letter-spacing="0.4">May</text>
<text x="417.0" y="649" font-size="9.5" text-anchor="middle" letter-spacing="0.4">Jun</text>
<text x="436.5" y="649" font-size="9.5" text-anchor="middle" letter-spacing="0.4">Jul</text>
<text x="460.8" y="649" font-size="9.5" text-anchor="middle" letter-spacing="0.4">Aug</text>
<text x="480.3" y="649" font-size="9.5" text-anchor="middle" letter-spacing="0.4">Sep</text>
<text x="499.8" y="649" font-size="9.5" text-anchor="middle" letter-spacing="0.4">Oct</text>
<text x="524.1" y="649" font-size="9.5" text-anchor="middle" letter-spacing="0.4">Nov</text>
<text x="563.1" y="649" font-size="10.5" font-weight="bold" text-anchor="middle">2024</text>
<text x="587.5" y="649" font-size="9.5" text-anchor="middle" letter-spacing="0.4">Feb</text>
<text x="607.0" y="649" font-size="9.5" text-anchor="middle" letter-spacing="0.4">Mar</text>
<text x="626.4" y="649" font-size="9.5" text-anchor="middle" letter-spacing="0.4">Apr</text>
<text x="650.8" y="649" font-size="9.5" text-anchor="middle" letter-spacing="0.4">May</text>
<text x="670.3" y="649" font-size="9.5" text-anchor="middle" letter-spacing="0.4">Jun</text>
<text x="689.8" y="649" font-size="9.5" text-anchor="middle" letter-spacing="0.4">Jul</text>
<text x="714.1" y="649" font-size="9.5" text-anchor="middle" letter-spacing="0.4">Aug</text>
<text x="733.6" y="649" font-size="9.5" text-anchor="middle" letter-spacing="0.4">Sep</text>
<text x="758.0" y="649" font-size="9.5" text-anchor="middle" letter-spacing="0.4">Oct</text>
<text x="777.5" y="649" font-size="9.5" text-anchor="middle" letter-spacing="0.4">Nov</text>
<text x="796.9" y="649" font-size="9.5" text-anchor="middle" letter-spacing="0.4">Dec</text>
<text x="821.3" y="649" font-size="10.5" font-weight="bold" text-anchor="middle">2025</text>
<text x="45" y="13.1" font-size="12.4" font-weight="bold" letter-spacing="-0.1">$GOLD</text>
<text x="91" y="13" font-size="10.2">Gold - Continuous Contract (EOD)</text>
<text x="253.5" y="13" font-size="8.5" font-weight="bold" fill="#222">CME</text>
<text x="44.6" y="25.1" font-size="9.5" letter-spacing="0.5">24-Dec-2024</text>
<text x="746" y="12.5" font-size="9.8" fill="#555" letter-spacing="0.28">©StockCharts.com</text>
<text x="362" y="24.8" font-size="10.7" font-weight="bold">Open</text>
<text x="393.2" y="24.8" font-size="10.3">2639.10</text>
<text x="436.2" y="24.8" font-size="10.7" font-weight="bold">High</text>
<text x="462.3" y="24.8" font-size="10.3">2646.80</text>
<text x="506.6" y="24.8" font-size="10.7" font-weight="bold">Low</text>
<text x="531.9" y="24.8" font-size="10.3">2623.20</text>
<text x="576.2" y="24.8" font-size="10.7" font-weight="bold">Close</text>
<text x="610" y="24.8" font-size="10.3">2635.50</text>
<text x="654.9" y="24.8" font-size="10.7" font-weight="bold">Volume</text>
<text x="699.6" y="24.8" font-size="10.3">15.3M</text>
<text x="734.5" y="24.8" font-size="10.7" font-weight="bold">Chg</text>
<text x="758.3" y="24.8" font-size="10.3">-9.60 (-0.36%)</text>
<path d="M825.4 20.8 L832.6 20.8 L829 24.4 Z" fill="#c41e0a"/>
<g fill="#fff"><rect x="46" y="28" width="204" height="12.5"/><rect x="46" y="40.5" width="80.5" height="10.5"/><rect x="46" y="51" width="91.5" height="10"/><rect x="46" y="393.5" width="78" height="12"/></g>
<text x="60" y="38" font-size="10" letter-spacing="1.1" fill="#111">$GOLD (Weekly) 2635.50 (24 Dec)</text>
<text x="57.5" y="47.8" font-size="9.4" fill="#000099">MA(60) 2356.83</text>
<line x1="48" y1="45" x2="56" y2="45" stroke="#000099" stroke-width="1.6"/>
<text x="57.5" y="58.3" font-size="9.1" fill="#333">Volume 15,303,500</text>
<g fill="#444"><rect x="48" y="55" width="1.5" height="4"/><rect x="50" y="53" width="1.5" height="6"/><rect x="52" y="52" width="1.5" height="7"/><rect x="54" y="54" width="1.5" height="5"/></g>
<g stroke="#111" stroke-width="1"><line x1="49.5" y1="30" x2="49.5" y2="38"/><line x1="53.5" y1="30" x2="53.5" y2="38"/></g><rect x="48" y="31.5" width="3" height="3.5" fill="#111"/><rect x="52.5" y="32.5" width="2.5" height="3.5" fill="#fff" stroke="#111" stroke-width="0.8"/>
<text x="60" y="403.8" font-size="10" letter-spacing="0.85" fill="#111">GDXJ 43.27</text>
<g stroke="#ff6600" stroke-width="1"><line x1="49.5" y1="396" x2="49.5" y2="405"/><line x1="53.5" y1="396" x2="53.5" y2="405"/></g><rect x="48" y="398" width="3" height="3.5" fill="#ff6600"/><rect x="52.5" y="399" width="2.5" height="3.5" fill="#fff" stroke="#ff6600" stroke-width="0.8"/>
<line x1="597.8" y1="581.4" x2="820.9" y2="429.5" stroke="#d23050" stroke-width="1.1"/>
<defs><filter id="sh" x="-5%" y="-5%" width="110%" height="115%"><feGaussianBlur in="SourceAlpha" stdDeviation="0.55"/><feOffset dx="1.3" dy="1.6" result="b"/><feComponentTransfer><feFuncA type="linear" slope="0.42"/></feComponentTransfer><feMerge><feMergeNode/><feMergeNode in="SourceGraphic"/></feMerge></filter></defs>
<path d="M518.4 143.0 L763.0 42.5 L455.8 160.5 L337.0 160.5 L337.0 180.6 L105.0 214.0 L356.0 186.0 L395.4 186.0 L392.3 228.5 L401.7 186.0 L456.6 186.0 L541.5 201.5 L460.4 179.8 L460.4 166.9 L650.6 121.4 L564.9 138.6 L624.0 122.6 L556.5 137.8 L780.5 70.0Z " fill="#fff" stroke="#858585" stroke-width="1.0" stroke-linejoin="miter" filter="url(#sh)"/>
<path d="M345.5 100.0 L583.7 100.0 L583.7 71.5 L803.0 71.2 L583.7 65.4 L583.7 36.5 L345.5 36.5Z " fill="#fff" stroke="#858585" stroke-width="1.0" stroke-linejoin="miter" filter="url(#sh)"/>
<path d="M802.0 46.0 L550.6 308.5 L350.4 308.5 L350.4 353.2 L551.7 353.2 L801.4 446.6 L556.8 347.6 L556.8 314.7Z " fill="#fff" stroke="#858585" stroke-width="1.0" stroke-linejoin="miter" filter="url(#sh)"/>
<path d="M134.2 434.9 L151.5 459.3 L151.5 537.4 L477.2 537.4 L477.2 459.8 L763.0 437.5 L462.6 454.3 L157.0 454.3Z " fill="#fff" stroke="#858585" stroke-width="1.0" stroke-linejoin="miter" filter="url(#sh)"/>
<path d="M776.5 485.3 L547.5 556.2 L763.1 411.8 L522.8 563.8 L132.1 563.8 L132.1 627.9 L527.4 627.9 L527.4 569.6 L812.8 492.5 L602.3 544.3Z " fill="#fff" stroke="#858585" stroke-width="1.0" stroke-linejoin="miter" filter="url(#sh)"/>
<path d="M63.7 67.2 L63.7 91.8 L107.3 91.8 L107.3 67.2Z " fill="#fff" stroke="#858585" stroke-width="1.0" stroke-linejoin="miter" filter="url(#sh)"/>
<path d="M107.3 66.8 L107.3 91.8 L266.0 91.8 L266.0 66.8Z " fill="#fff" stroke="#858585" stroke-width="1.0" stroke-linejoin="miter" filter="url(#sh)"/>
<text x="67" y="85.2" font-size="15.6" font-weight="bold" word-spacing="1.5" fill="#ff9900">Gold</text>
<text x="110" y="85.2" font-size="15.9" font-weight="bold" word-spacing="1.5" fill="#000">PriceForecast.com</text>
<text x="348.6" y="54.6" font-size="15.5" font-weight="bold" word-spacing="1.5" fill="#000" textLength="207" lengthAdjust="spacing">Big-volume gravestone doji</text>
<text x="348.6" y="74" font-size="15.5" font-weight="bold" word-spacing="1.5" fill="#000" textLength="210.0" lengthAdjust="spacing">candlestick on relatively big</text>
<text x="348.6" y="93.3" font-size="15.5" font-weight="bold" word-spacing="1.5" fill="#000" textLength="191.9" lengthAdjust="spacing">volume is a reversal sign.</text>
<text x="338.7" y="178.2" font-size="15.5" font-weight="bold" word-spacing="1.5" fill="#000" textLength="105.6" lengthAdjust="spacing">Clear reversal</text>
<text x="353.4" y="325.8" font-size="15.5" font-weight="bold" word-spacing="1.5" fill="#cc0a3c" textLength="184" lengthAdjust="spacing">Breakdowns in gold and</text>
<text x="353.4" y="345.2" font-size="15.5" font-weight="bold" word-spacing="1.5" fill="#cc0a3c" textLength="157" lengthAdjust="spacing">miners were verified.</text>
<text x="153.6" y="471.9" font-size="15.5" font-weight="bold" word-spacing="1.5" fill="#000" textLength="300.6" lengthAdjust="spacing">Miners invalidated their breakout above</text>
<text x="153.6" y="491.4" font-size="15.5" font-weight="bold" word-spacing="1.5" fill="#000" textLength="289.5" lengthAdjust="spacing">their 2022 high. Also, please note how</text>
<text x="153.6" y="510.9" font-size="15.5" font-weight="bold" word-spacing="1.5" fill="#000" textLength="281.3" lengthAdjust="spacing">weak miners are relative to gold on a</text>
<text x="153.6" y="530.4" font-size="15.5" font-weight="bold" word-spacing="1.5" fill="#000" textLength="121.8" lengthAdjust="spacing">long-term basis.</text>
<text x="135.1" y="581.8" font-size="15.5" font-weight="bold" word-spacing="1.5" fill="#ff9900" textLength="366.6" lengthAdjust="spacing">Miners are weak vs. gold also on a medium-term</text>
<text x="135.1" y="601.3" font-size="15.5" font-weight="bold" word-spacing="1.5" fill="#ff9900" textLength="370.6" lengthAdjust="spacing">basis, with a slight exception at the top (which is</text>
<text x="135.1" y="620.8" font-size="15.5" font-weight="bold" word-spacing="1.5" fill="#ff9900" textLength="211.5" lengthAdjust="spacing">inverse to the 2016 bottom).</text>
<rect x="767.5" y="33.5" width="54" height="473" fill="#edb84c" fill-opacity="0.28" stroke="#eeb860" stroke-opacity="0.55" stroke-width="1"/>
<line x1="129.3" y1="433.9" x2="838.5" y2="433.9" stroke="#222" stroke-width="1.2" stroke-dasharray="4,2.3"/>
<line x1="592.6" y1="245" x2="806.7" y2="40.5" stroke="#d23050" stroke-width="1.1"/>
</g></svg></body></html>
